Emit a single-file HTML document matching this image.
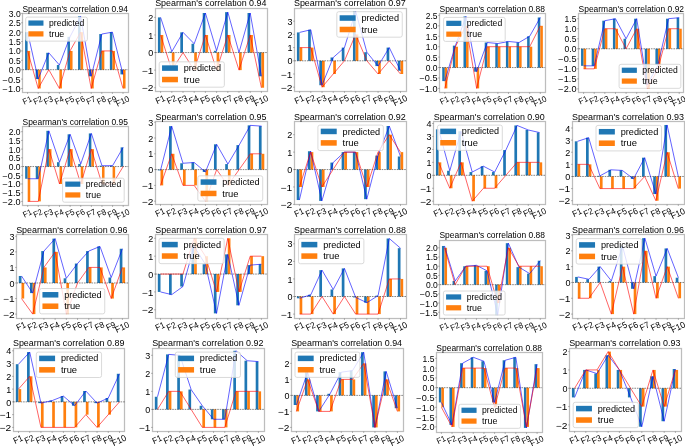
<!DOCTYPE html>
<html><head><meta charset="utf-8"><style>
html,body{margin:0;padding:0;background:#fff;width:685px;height:446px;overflow:hidden}
svg{display:block;filter:blur(0.3px)}
text{font-family:"Liberation Sans",sans-serif}
</style></head><body>
<svg width="685" height="446" viewBox="0 0 685 446">
<rect width="685" height="446" fill="#fff"/>
<clipPath id="c00"><rect x="22.60" y="13.60" width="105.65" height="78.70"/></clipPath>
<g clip-path="url(#c00)">
<rect x="25.06" y="32.17" width="2.54" height="37.53" fill="#1f77b4"/>
<rect x="27.60" y="50.93" width="2.54" height="18.77" fill="#ff7f0e"/>
<rect x="35.66" y="69.70" width="2.54" height="9.38" fill="#1f77b4"/>
<rect x="38.20" y="69.70" width="2.54" height="18.77" fill="#ff7f0e"/>
<rect x="46.26" y="52.81" width="2.54" height="16.89" fill="#1f77b4"/>
<rect x="48.80" y="69.70" width="2.54" height="0.00" fill="#ff7f0e"/>
<rect x="56.86" y="65.01" width="2.54" height="4.69" fill="#1f77b4"/>
<rect x="59.40" y="69.70" width="2.54" height="18.77" fill="#ff7f0e"/>
<rect x="67.46" y="36.86" width="2.54" height="32.84" fill="#1f77b4"/>
<rect x="70.00" y="50.93" width="2.54" height="18.77" fill="#ff7f0e"/>
<rect x="78.06" y="16.22" width="2.54" height="53.49" fill="#1f77b4"/>
<rect x="80.60" y="32.17" width="2.54" height="37.53" fill="#ff7f0e"/>
<rect x="88.66" y="69.70" width="2.54" height="6.57" fill="#1f77b4"/>
<rect x="91.20" y="69.70" width="2.54" height="18.77" fill="#ff7f0e"/>
<rect x="99.26" y="34.04" width="2.54" height="35.66" fill="#1f77b4"/>
<rect x="101.80" y="50.93" width="2.54" height="18.77" fill="#ff7f0e"/>
<rect x="109.86" y="32.17" width="2.54" height="37.53" fill="#1f77b4"/>
<rect x="112.40" y="50.93" width="2.54" height="18.77" fill="#ff7f0e"/>
<rect x="120.46" y="69.70" width="2.54" height="4.69" fill="#1f77b4"/>
<rect x="123.00" y="69.70" width="2.54" height="18.77" fill="#ff7f0e"/>
<line x1="22.60" y1="69.70" x2="128.25" y2="69.70" stroke="#000" stroke-opacity="0.6" stroke-width="0.80" stroke-dasharray="1.6,0.9"/>
<polyline points="27.60,32.17 38.20,79.08 48.80,52.81 59.40,65.01 70.00,36.86 80.60,16.22 91.20,76.27 101.80,34.04 112.40,32.17 123.00,74.39" fill="none" stroke="#0000ff" stroke-opacity="0.95" stroke-width="0.65" stroke-linejoin="round"/>
<polyline points="27.60,50.93 38.20,88.47 48.80,69.70 59.40,88.47 70.00,50.93 80.60,32.17 91.20,88.47 101.80,50.93 112.40,50.93 123.00,88.47" fill="none" stroke="#ff0000" stroke-opacity="0.95" stroke-width="0.65" stroke-linejoin="round"/>
</g>
<rect x="22.50" y="13.50" width="106.00" height="79.00" fill="none" stroke="#000" stroke-opacity="0.26" stroke-width="1.25"/>
<line x1="21.00" y1="13.40" x2="22.50" y2="13.40" stroke="#000" stroke-opacity="0.35" stroke-width="0.8"/>
<text x="20.70" y="16.83" font-size="8.43" text-anchor="end" textLength="11.87" lengthAdjust="spacingAndGlyphs" fill="#000">3.0</text>
<line x1="21.00" y1="22.78" x2="22.50" y2="22.78" stroke="#000" stroke-opacity="0.35" stroke-width="0.8"/>
<text x="20.70" y="26.22" font-size="8.43" text-anchor="end" textLength="11.87" lengthAdjust="spacingAndGlyphs" fill="#000">2.5</text>
<line x1="21.00" y1="32.17" x2="22.50" y2="32.17" stroke="#000" stroke-opacity="0.35" stroke-width="0.8"/>
<text x="20.70" y="35.60" font-size="8.43" text-anchor="end" textLength="11.87" lengthAdjust="spacingAndGlyphs" fill="#000">2.0</text>
<line x1="21.00" y1="41.55" x2="22.50" y2="41.55" stroke="#000" stroke-opacity="0.35" stroke-width="0.8"/>
<text x="20.70" y="44.98" font-size="8.43" text-anchor="end" textLength="11.87" lengthAdjust="spacingAndGlyphs" fill="#000">1.5</text>
<line x1="21.00" y1="50.93" x2="22.50" y2="50.93" stroke="#000" stroke-opacity="0.35" stroke-width="0.8"/>
<text x="20.70" y="54.37" font-size="8.43" text-anchor="end" textLength="11.87" lengthAdjust="spacingAndGlyphs" fill="#000">1.0</text>
<line x1="21.00" y1="60.32" x2="22.50" y2="60.32" stroke="#000" stroke-opacity="0.35" stroke-width="0.8"/>
<text x="20.70" y="63.75" font-size="8.43" text-anchor="end" textLength="11.87" lengthAdjust="spacingAndGlyphs" fill="#000">0.5</text>
<line x1="21.00" y1="69.70" x2="22.50" y2="69.70" stroke="#000" stroke-opacity="0.35" stroke-width="0.8"/>
<text x="20.70" y="73.13" font-size="8.43" text-anchor="end" textLength="11.87" lengthAdjust="spacingAndGlyphs" fill="#000">0.0</text>
<line x1="21.00" y1="79.08" x2="22.50" y2="79.08" stroke="#000" stroke-opacity="0.35" stroke-width="0.8"/>
<text x="20.70" y="82.52" font-size="8.43" text-anchor="end" textLength="18.12" lengthAdjust="spacingAndGlyphs" fill="#000">−0.5</text>
<line x1="21.00" y1="88.47" x2="22.50" y2="88.47" stroke="#000" stroke-opacity="0.35" stroke-width="0.8"/>
<text x="20.70" y="91.90" font-size="8.43" text-anchor="end" textLength="18.12" lengthAdjust="spacingAndGlyphs" fill="#000">−1.0</text>
<line x1="27.60" y1="92.50" x2="27.60" y2="94.00" stroke="#000" stroke-opacity="0.35" stroke-width="0.8"/>
<g transform="translate(27.60,100.92) rotate(-25.0)"><text x="0.00" y="2.02" font-size="8.43" text-anchor="middle" textLength="9.04" lengthAdjust="spacingAndGlyphs" fill="#000">F1</text></g>
<line x1="38.20" y1="92.50" x2="38.20" y2="94.00" stroke="#000" stroke-opacity="0.35" stroke-width="0.8"/>
<g transform="translate(38.20,100.92) rotate(-25.0)"><text x="0.00" y="2.02" font-size="8.43" text-anchor="middle" textLength="9.04" lengthAdjust="spacingAndGlyphs" fill="#000">F2</text></g>
<line x1="48.80" y1="92.50" x2="48.80" y2="94.00" stroke="#000" stroke-opacity="0.35" stroke-width="0.8"/>
<g transform="translate(48.80,100.92) rotate(-25.0)"><text x="0.00" y="2.02" font-size="8.43" text-anchor="middle" textLength="9.04" lengthAdjust="spacingAndGlyphs" fill="#000">F3</text></g>
<line x1="59.40" y1="92.50" x2="59.40" y2="94.00" stroke="#000" stroke-opacity="0.35" stroke-width="0.8"/>
<g transform="translate(59.40,100.92) rotate(-25.0)"><text x="0.00" y="2.02" font-size="8.43" text-anchor="middle" textLength="9.04" lengthAdjust="spacingAndGlyphs" fill="#000">F4</text></g>
<line x1="70.00" y1="92.50" x2="70.00" y2="94.00" stroke="#000" stroke-opacity="0.35" stroke-width="0.8"/>
<g transform="translate(70.00,100.92) rotate(-25.0)"><text x="0.00" y="2.02" font-size="8.43" text-anchor="middle" textLength="9.04" lengthAdjust="spacingAndGlyphs" fill="#000">F5</text></g>
<line x1="80.60" y1="92.50" x2="80.60" y2="94.00" stroke="#000" stroke-opacity="0.35" stroke-width="0.8"/>
<g transform="translate(80.60,100.92) rotate(-25.0)"><text x="0.00" y="2.02" font-size="8.43" text-anchor="middle" textLength="9.04" lengthAdjust="spacingAndGlyphs" fill="#000">F6</text></g>
<line x1="91.20" y1="92.50" x2="91.20" y2="94.00" stroke="#000" stroke-opacity="0.35" stroke-width="0.8"/>
<g transform="translate(91.20,100.92) rotate(-25.0)"><text x="0.00" y="2.02" font-size="8.43" text-anchor="middle" textLength="9.04" lengthAdjust="spacingAndGlyphs" fill="#000">F7</text></g>
<line x1="101.80" y1="92.50" x2="101.80" y2="94.00" stroke="#000" stroke-opacity="0.35" stroke-width="0.8"/>
<g transform="translate(101.80,100.92) rotate(-25.0)"><text x="0.00" y="2.02" font-size="8.43" text-anchor="middle" textLength="9.04" lengthAdjust="spacingAndGlyphs" fill="#000">F8</text></g>
<line x1="112.40" y1="92.50" x2="112.40" y2="94.00" stroke="#000" stroke-opacity="0.35" stroke-width="0.8"/>
<g transform="translate(112.40,100.92) rotate(-25.0)"><text x="0.00" y="2.02" font-size="8.43" text-anchor="middle" textLength="9.04" lengthAdjust="spacingAndGlyphs" fill="#000">F9</text></g>
<line x1="123.00" y1="92.50" x2="123.00" y2="94.00" stroke="#000" stroke-opacity="0.35" stroke-width="0.8"/>
<g transform="translate(123.00,101.93) rotate(-25.0)"><text x="0.00" y="2.02" font-size="8.43" text-anchor="middle" textLength="13.79" lengthAdjust="spacingAndGlyphs" fill="#000">F10</text></g>
<text x="75.20" y="11.60" font-size="8.43" text-anchor="middle" textLength="105.50" lengthAdjust="spacingAndGlyphs" fill="#000">Spearman&#39;s correlation 0.94</text>
<rect x="25.70" y="17.10" width="61.72" height="24.03" rx="1.87" fill="#fff" fill-opacity="0.8" stroke="#d0d0d0" stroke-width="0.8"/>
<rect x="28.39" y="20.46" width="15.08" height="5.22" fill="#1f77b4"/>
<text x="48.99" y="25.98" font-size="8.43" text-anchor="start" textLength="35.40" lengthAdjust="spacingAndGlyphs" fill="#000">predicted</text>
<rect x="28.39" y="31.28" width="15.08" height="5.22" fill="#ff7f0e"/>
<text x="48.99" y="36.80" font-size="8.43" text-anchor="start" textLength="15.32" lengthAdjust="spacingAndGlyphs" fill="#000">true</text>
<clipPath id="c01"><rect x="155.20" y="8.00" width="112.00" height="83.40"/></clipPath>
<g clip-path="url(#c01)">
<rect x="157.91" y="17.40" width="2.69" height="35.15" fill="#1f77b4"/>
<rect x="160.60" y="34.98" width="2.69" height="17.58" fill="#ff7f0e"/>
<rect x="169.11" y="51.67" width="2.69" height="0.88" fill="#1f77b4"/>
<rect x="171.80" y="52.55" width="2.69" height="17.57" fill="#ff7f0e"/>
<rect x="180.31" y="32.34" width="2.69" height="20.21" fill="#1f77b4"/>
<rect x="183.00" y="52.55" width="2.69" height="0.00" fill="#ff7f0e"/>
<rect x="191.51" y="43.76" width="2.69" height="8.79" fill="#1f77b4"/>
<rect x="194.20" y="52.55" width="2.69" height="17.57" fill="#ff7f0e"/>
<rect x="202.71" y="13.01" width="2.69" height="39.54" fill="#1f77b4"/>
<rect x="205.40" y="34.98" width="2.69" height="17.58" fill="#ff7f0e"/>
<rect x="213.91" y="50.79" width="2.69" height="1.76" fill="#1f77b4"/>
<rect x="216.60" y="52.55" width="2.69" height="17.57" fill="#ff7f0e"/>
<rect x="225.11" y="12.13" width="2.69" height="40.42" fill="#1f77b4"/>
<rect x="227.80" y="34.98" width="2.69" height="17.58" fill="#ff7f0e"/>
<rect x="236.31" y="52.55" width="2.69" height="0.00" fill="#1f77b4"/>
<rect x="239.00" y="52.55" width="2.69" height="17.57" fill="#ff7f0e"/>
<rect x="247.51" y="13.01" width="2.69" height="39.54" fill="#1f77b4"/>
<rect x="250.20" y="34.98" width="2.69" height="17.58" fill="#ff7f0e"/>
<rect x="258.71" y="52.55" width="2.69" height="23.73" fill="#1f77b4"/>
<rect x="261.40" y="52.55" width="2.69" height="35.15" fill="#ff7f0e"/>
<line x1="155.20" y1="52.55" x2="267.20" y2="52.55" stroke="#000" stroke-opacity="0.6" stroke-width="0.80" stroke-dasharray="1.6,0.9"/>
<polyline points="160.60,17.40 171.80,51.67 183.00,32.34 194.20,43.76 205.40,13.01 216.60,50.79 227.80,12.13 239.00,52.55 250.20,13.01 261.40,76.28" fill="none" stroke="#0000ff" stroke-opacity="0.95" stroke-width="0.65" stroke-linejoin="round"/>
<polyline points="160.60,34.98 171.80,70.12 183.00,52.55 194.20,70.12 205.40,34.98 216.60,70.12 227.80,34.98 239.00,70.12 250.20,34.98 261.40,87.70" fill="none" stroke="#ff0000" stroke-opacity="0.95" stroke-width="0.65" stroke-linejoin="round"/>
</g>
<rect x="155.50" y="8.50" width="112.00" height="83.00" fill="none" stroke="#000" stroke-opacity="0.26" stroke-width="1.25"/>
<line x1="154.00" y1="17.40" x2="155.50" y2="17.40" stroke="#000" stroke-opacity="0.35" stroke-width="0.8"/>
<text x="153.30" y="21.02" font-size="8.90" text-anchor="end" textLength="5.01" lengthAdjust="spacingAndGlyphs" fill="#000">2</text>
<line x1="154.00" y1="34.98" x2="155.50" y2="34.98" stroke="#000" stroke-opacity="0.35" stroke-width="0.8"/>
<text x="153.30" y="38.60" font-size="8.90" text-anchor="end" textLength="5.01" lengthAdjust="spacingAndGlyphs" fill="#000">1</text>
<line x1="154.00" y1="52.55" x2="155.50" y2="52.55" stroke="#000" stroke-opacity="0.35" stroke-width="0.8"/>
<text x="153.30" y="56.17" font-size="8.90" text-anchor="end" textLength="5.01" lengthAdjust="spacingAndGlyphs" fill="#000">0</text>
<line x1="154.00" y1="70.12" x2="155.50" y2="70.12" stroke="#000" stroke-opacity="0.35" stroke-width="0.8"/>
<text x="153.30" y="73.75" font-size="8.90" text-anchor="end" textLength="11.61" lengthAdjust="spacingAndGlyphs" fill="#000">−1</text>
<line x1="154.00" y1="87.70" x2="155.50" y2="87.70" stroke="#000" stroke-opacity="0.35" stroke-width="0.8"/>
<text x="153.30" y="91.32" font-size="8.90" text-anchor="end" textLength="11.61" lengthAdjust="spacingAndGlyphs" fill="#000">−2</text>
<line x1="160.60" y1="91.50" x2="160.60" y2="93.00" stroke="#000" stroke-opacity="0.35" stroke-width="0.8"/>
<g transform="translate(160.60,100.31) rotate(-25.0)"><text x="0.00" y="2.13" font-size="8.90" text-anchor="middle" textLength="9.54" lengthAdjust="spacingAndGlyphs" fill="#000">F1</text></g>
<line x1="171.80" y1="91.50" x2="171.80" y2="93.00" stroke="#000" stroke-opacity="0.35" stroke-width="0.8"/>
<g transform="translate(171.80,100.31) rotate(-25.0)"><text x="0.00" y="2.13" font-size="8.90" text-anchor="middle" textLength="9.54" lengthAdjust="spacingAndGlyphs" fill="#000">F2</text></g>
<line x1="183.00" y1="91.50" x2="183.00" y2="93.00" stroke="#000" stroke-opacity="0.35" stroke-width="0.8"/>
<g transform="translate(183.00,100.31) rotate(-25.0)"><text x="0.00" y="2.13" font-size="8.90" text-anchor="middle" textLength="9.54" lengthAdjust="spacingAndGlyphs" fill="#000">F3</text></g>
<line x1="194.20" y1="91.50" x2="194.20" y2="93.00" stroke="#000" stroke-opacity="0.35" stroke-width="0.8"/>
<g transform="translate(194.20,100.31) rotate(-25.0)"><text x="0.00" y="2.13" font-size="8.90" text-anchor="middle" textLength="9.54" lengthAdjust="spacingAndGlyphs" fill="#000">F4</text></g>
<line x1="205.40" y1="91.50" x2="205.40" y2="93.00" stroke="#000" stroke-opacity="0.35" stroke-width="0.8"/>
<g transform="translate(205.40,100.31) rotate(-25.0)"><text x="0.00" y="2.13" font-size="8.90" text-anchor="middle" textLength="9.54" lengthAdjust="spacingAndGlyphs" fill="#000">F5</text></g>
<line x1="216.60" y1="91.50" x2="216.60" y2="93.00" stroke="#000" stroke-opacity="0.35" stroke-width="0.8"/>
<g transform="translate(216.60,100.31) rotate(-25.0)"><text x="0.00" y="2.13" font-size="8.90" text-anchor="middle" textLength="9.54" lengthAdjust="spacingAndGlyphs" fill="#000">F6</text></g>
<line x1="227.80" y1="91.50" x2="227.80" y2="93.00" stroke="#000" stroke-opacity="0.35" stroke-width="0.8"/>
<g transform="translate(227.80,100.31) rotate(-25.0)"><text x="0.00" y="2.13" font-size="8.90" text-anchor="middle" textLength="9.54" lengthAdjust="spacingAndGlyphs" fill="#000">F7</text></g>
<line x1="239.00" y1="91.50" x2="239.00" y2="93.00" stroke="#000" stroke-opacity="0.35" stroke-width="0.8"/>
<g transform="translate(239.00,100.31) rotate(-25.0)"><text x="0.00" y="2.13" font-size="8.90" text-anchor="middle" textLength="9.54" lengthAdjust="spacingAndGlyphs" fill="#000">F8</text></g>
<line x1="250.20" y1="91.50" x2="250.20" y2="93.00" stroke="#000" stroke-opacity="0.35" stroke-width="0.8"/>
<g transform="translate(250.20,100.31) rotate(-25.0)"><text x="0.00" y="2.13" font-size="8.90" text-anchor="middle" textLength="9.54" lengthAdjust="spacingAndGlyphs" fill="#000">F9</text></g>
<line x1="261.40" y1="91.50" x2="261.40" y2="93.00" stroke="#000" stroke-opacity="0.35" stroke-width="0.8"/>
<g transform="translate(261.40,101.37) rotate(-25.0)"><text x="0.00" y="2.13" font-size="8.90" text-anchor="middle" textLength="14.55" lengthAdjust="spacingAndGlyphs" fill="#000">F10</text></g>
<text x="210.80" y="6.00" font-size="8.90" text-anchor="middle" textLength="111.35" lengthAdjust="spacingAndGlyphs" fill="#000">Spearman&#39;s correlation 0.94</text>
<rect x="159.20" y="61.80" width="65.15" height="25.36" rx="1.97" fill="#fff" fill-opacity="0.8" stroke="#d0d0d0" stroke-width="0.8"/>
<rect x="162.04" y="65.34" width="15.91" height="5.51" fill="#1f77b4"/>
<text x="183.78" y="71.17" font-size="8.90" text-anchor="start" textLength="37.37" lengthAdjust="spacingAndGlyphs" fill="#000">predicted</text>
<rect x="162.04" y="76.77" width="15.91" height="5.51" fill="#ff7f0e"/>
<text x="183.78" y="82.60" font-size="8.90" text-anchor="start" textLength="16.17" lengthAdjust="spacingAndGlyphs" fill="#000">true</text>
<clipPath id="c02"><rect x="294.40" y="8.00" width="111.80" height="83.30"/></clipPath>
<g clip-path="url(#c02)">
<rect x="296.91" y="32.42" width="2.69" height="28.38" fill="#1f77b4"/>
<rect x="299.60" y="47.60" width="2.69" height="13.20" fill="#ff7f0e"/>
<rect x="308.12" y="29.78" width="2.69" height="31.02" fill="#1f77b4"/>
<rect x="310.81" y="47.60" width="2.69" height="13.20" fill="#ff7f0e"/>
<rect x="319.33" y="60.80" width="2.69" height="24.42" fill="#1f77b4"/>
<rect x="322.02" y="60.80" width="2.69" height="26.40" fill="#ff7f0e"/>
<rect x="330.54" y="57.50" width="2.69" height="3.30" fill="#1f77b4"/>
<rect x="333.23" y="60.80" width="2.69" height="13.20" fill="#ff7f0e"/>
<rect x="341.75" y="47.60" width="2.69" height="13.20" fill="#1f77b4"/>
<rect x="344.44" y="60.80" width="2.69" height="0.00" fill="#ff7f0e"/>
<rect x="352.96" y="11.30" width="2.69" height="49.50" fill="#1f77b4"/>
<rect x="355.66" y="34.40" width="2.69" height="26.40" fill="#ff7f0e"/>
<rect x="364.18" y="52.22" width="2.69" height="8.58" fill="#1f77b4"/>
<rect x="366.87" y="60.80" width="2.69" height="0.00" fill="#ff7f0e"/>
<rect x="375.39" y="60.80" width="2.69" height="5.28" fill="#1f77b4"/>
<rect x="378.08" y="60.80" width="2.69" height="13.20" fill="#ff7f0e"/>
<rect x="386.60" y="47.60" width="2.69" height="13.20" fill="#1f77b4"/>
<rect x="389.29" y="60.80" width="2.69" height="0.00" fill="#ff7f0e"/>
<rect x="397.81" y="60.80" width="2.69" height="9.90" fill="#1f77b4"/>
<rect x="400.50" y="60.80" width="2.69" height="13.20" fill="#ff7f0e"/>
<line x1="294.40" y1="60.80" x2="406.20" y2="60.80" stroke="#000" stroke-opacity="0.6" stroke-width="0.80" stroke-dasharray="1.6,0.9"/>
<polyline points="299.60,32.42 310.81,29.78 322.02,85.22 333.23,57.50 344.44,47.60 355.66,11.30 366.87,52.22 378.08,66.08 389.29,47.60 400.50,70.70" fill="none" stroke="#0000ff" stroke-opacity="0.95" stroke-width="0.65" stroke-linejoin="round"/>
<polyline points="299.60,47.60 310.81,47.60 322.02,87.20 333.23,74.00 344.44,60.80 355.66,34.40 366.87,60.80 378.08,74.00 389.29,60.80 400.50,74.00" fill="none" stroke="#ff0000" stroke-opacity="0.95" stroke-width="0.65" stroke-linejoin="round"/>
</g>
<rect x="294.50" y="8.50" width="112.00" height="83.00" fill="none" stroke="#000" stroke-opacity="0.26" stroke-width="1.25"/>
<line x1="293.00" y1="21.20" x2="294.50" y2="21.20" stroke="#000" stroke-opacity="0.35" stroke-width="0.8"/>
<text x="292.50" y="24.84" font-size="8.94" text-anchor="end" textLength="5.03" lengthAdjust="spacingAndGlyphs" fill="#000">3</text>
<line x1="293.00" y1="34.40" x2="294.50" y2="34.40" stroke="#000" stroke-opacity="0.35" stroke-width="0.8"/>
<text x="292.50" y="38.04" font-size="8.94" text-anchor="end" textLength="5.03" lengthAdjust="spacingAndGlyphs" fill="#000">2</text>
<line x1="293.00" y1="47.60" x2="294.50" y2="47.60" stroke="#000" stroke-opacity="0.35" stroke-width="0.8"/>
<text x="292.50" y="51.24" font-size="8.94" text-anchor="end" textLength="5.03" lengthAdjust="spacingAndGlyphs" fill="#000">1</text>
<line x1="293.00" y1="60.80" x2="294.50" y2="60.80" stroke="#000" stroke-opacity="0.35" stroke-width="0.8"/>
<text x="292.50" y="64.44" font-size="8.94" text-anchor="end" textLength="5.03" lengthAdjust="spacingAndGlyphs" fill="#000">0</text>
<line x1="293.00" y1="74.00" x2="294.50" y2="74.00" stroke="#000" stroke-opacity="0.35" stroke-width="0.8"/>
<text x="292.50" y="77.64" font-size="8.94" text-anchor="end" textLength="11.66" lengthAdjust="spacingAndGlyphs" fill="#000">−1</text>
<line x1="293.00" y1="87.20" x2="294.50" y2="87.20" stroke="#000" stroke-opacity="0.35" stroke-width="0.8"/>
<text x="292.50" y="90.84" font-size="8.94" text-anchor="end" textLength="11.66" lengthAdjust="spacingAndGlyphs" fill="#000">−2</text>
<line x1="299.60" y1="91.50" x2="299.60" y2="93.00" stroke="#000" stroke-opacity="0.35" stroke-width="0.8"/>
<g transform="translate(299.60,100.23) rotate(-25.0)"><text x="0.00" y="2.14" font-size="8.94" text-anchor="middle" textLength="9.59" lengthAdjust="spacingAndGlyphs" fill="#000">F1</text></g>
<line x1="310.81" y1="91.50" x2="310.81" y2="93.00" stroke="#000" stroke-opacity="0.35" stroke-width="0.8"/>
<g transform="translate(310.81,100.23) rotate(-25.0)"><text x="0.00" y="2.14" font-size="8.94" text-anchor="middle" textLength="9.59" lengthAdjust="spacingAndGlyphs" fill="#000">F2</text></g>
<line x1="322.02" y1="91.50" x2="322.02" y2="93.00" stroke="#000" stroke-opacity="0.35" stroke-width="0.8"/>
<g transform="translate(322.02,100.23) rotate(-25.0)"><text x="0.00" y="2.14" font-size="8.94" text-anchor="middle" textLength="9.59" lengthAdjust="spacingAndGlyphs" fill="#000">F3</text></g>
<line x1="333.23" y1="91.50" x2="333.23" y2="93.00" stroke="#000" stroke-opacity="0.35" stroke-width="0.8"/>
<g transform="translate(333.23,100.23) rotate(-25.0)"><text x="0.00" y="2.14" font-size="8.94" text-anchor="middle" textLength="9.59" lengthAdjust="spacingAndGlyphs" fill="#000">F4</text></g>
<line x1="344.44" y1="91.50" x2="344.44" y2="93.00" stroke="#000" stroke-opacity="0.35" stroke-width="0.8"/>
<g transform="translate(344.44,100.23) rotate(-25.0)"><text x="0.00" y="2.14" font-size="8.94" text-anchor="middle" textLength="9.59" lengthAdjust="spacingAndGlyphs" fill="#000">F5</text></g>
<line x1="355.66" y1="91.50" x2="355.66" y2="93.00" stroke="#000" stroke-opacity="0.35" stroke-width="0.8"/>
<g transform="translate(355.66,100.23) rotate(-25.0)"><text x="0.00" y="2.14" font-size="8.94" text-anchor="middle" textLength="9.59" lengthAdjust="spacingAndGlyphs" fill="#000">F6</text></g>
<line x1="366.87" y1="91.50" x2="366.87" y2="93.00" stroke="#000" stroke-opacity="0.35" stroke-width="0.8"/>
<g transform="translate(366.87,100.23) rotate(-25.0)"><text x="0.00" y="2.14" font-size="8.94" text-anchor="middle" textLength="9.59" lengthAdjust="spacingAndGlyphs" fill="#000">F7</text></g>
<line x1="378.08" y1="91.50" x2="378.08" y2="93.00" stroke="#000" stroke-opacity="0.35" stroke-width="0.8"/>
<g transform="translate(378.08,100.23) rotate(-25.0)"><text x="0.00" y="2.14" font-size="8.94" text-anchor="middle" textLength="9.59" lengthAdjust="spacingAndGlyphs" fill="#000">F8</text></g>
<line x1="389.29" y1="91.50" x2="389.29" y2="93.00" stroke="#000" stroke-opacity="0.35" stroke-width="0.8"/>
<g transform="translate(389.29,100.23) rotate(-25.0)"><text x="0.00" y="2.14" font-size="8.94" text-anchor="middle" textLength="9.59" lengthAdjust="spacingAndGlyphs" fill="#000">F9</text></g>
<line x1="400.50" y1="91.50" x2="400.50" y2="93.00" stroke="#000" stroke-opacity="0.35" stroke-width="0.8"/>
<g transform="translate(400.50,101.30) rotate(-25.0)"><text x="0.00" y="2.14" font-size="8.94" text-anchor="middle" textLength="14.62" lengthAdjust="spacingAndGlyphs" fill="#000">F10</text></g>
<text x="349.85" y="6.00" font-size="8.94" text-anchor="middle" textLength="111.86" lengthAdjust="spacingAndGlyphs" fill="#000">Spearman&#39;s correlation 0.97</text>
<rect x="336.80" y="11.70" width="65.44" height="25.48" rx="1.98" fill="#fff" fill-opacity="0.8" stroke="#d0d0d0" stroke-width="0.8"/>
<rect x="339.65" y="15.26" width="15.98" height="5.54" fill="#1f77b4"/>
<text x="361.49" y="21.12" font-size="8.94" text-anchor="start" textLength="37.54" lengthAdjust="spacingAndGlyphs" fill="#000">predicted</text>
<rect x="339.65" y="26.73" width="15.98" height="5.54" fill="#ff7f0e"/>
<text x="361.49" y="32.59" font-size="8.94" text-anchor="start" textLength="16.24" lengthAdjust="spacingAndGlyphs" fill="#000">true</text>
<clipPath id="c03"><rect x="439.40" y="13.70" width="106.00" height="78.60"/></clipPath>
<g clip-path="url(#c03)">
<rect x="442.25" y="67.54" width="2.55" height="13.56" fill="#1f77b4"/>
<rect x="444.80" y="67.54" width="2.55" height="20.86" fill="#ff7f0e"/>
<rect x="452.86" y="45.64" width="2.55" height="21.90" fill="#1f77b4"/>
<rect x="455.41" y="46.69" width="2.55" height="20.86" fill="#ff7f0e"/>
<rect x="463.48" y="16.44" width="2.55" height="51.10" fill="#1f77b4"/>
<rect x="466.02" y="25.83" width="2.55" height="41.71" fill="#ff7f0e"/>
<rect x="474.09" y="67.54" width="2.55" height="4.17" fill="#1f77b4"/>
<rect x="476.63" y="67.54" width="2.55" height="20.86" fill="#ff7f0e"/>
<rect x="484.70" y="42.51" width="2.55" height="25.03" fill="#1f77b4"/>
<rect x="487.24" y="46.69" width="2.55" height="20.86" fill="#ff7f0e"/>
<rect x="495.31" y="43.56" width="2.55" height="23.99" fill="#1f77b4"/>
<rect x="497.86" y="46.69" width="2.55" height="20.86" fill="#ff7f0e"/>
<rect x="505.92" y="41.47" width="2.55" height="26.07" fill="#1f77b4"/>
<rect x="508.47" y="46.69" width="2.55" height="20.86" fill="#ff7f0e"/>
<rect x="516.53" y="42.51" width="2.55" height="25.03" fill="#1f77b4"/>
<rect x="519.08" y="46.69" width="2.55" height="20.86" fill="#ff7f0e"/>
<rect x="527.14" y="36.26" width="2.55" height="31.29" fill="#1f77b4"/>
<rect x="529.69" y="46.69" width="2.55" height="20.86" fill="#ff7f0e"/>
<rect x="537.75" y="17.49" width="2.55" height="50.06" fill="#1f77b4"/>
<rect x="540.30" y="25.83" width="2.55" height="41.71" fill="#ff7f0e"/>
<line x1="439.40" y1="67.54" x2="545.40" y2="67.54" stroke="#000" stroke-opacity="0.6" stroke-width="0.80" stroke-dasharray="1.6,0.9"/>
<polyline points="444.80,81.10 455.41,45.64 466.02,16.44 476.63,71.71 487.24,42.51 497.86,43.56 508.47,41.47 519.08,42.51 529.69,36.26 540.30,17.49" fill="none" stroke="#0000ff" stroke-opacity="0.95" stroke-width="0.65" stroke-linejoin="round"/>
<polyline points="444.80,88.40 455.41,46.69 466.02,25.83 476.63,88.40 487.24,46.69 497.86,46.69 508.47,46.69 519.08,46.69 529.69,46.69 540.30,25.83" fill="none" stroke="#ff0000" stroke-opacity="0.95" stroke-width="0.65" stroke-linejoin="round"/>
</g>
<rect x="439.50" y="13.50" width="106.00" height="79.00" fill="none" stroke="#000" stroke-opacity="0.26" stroke-width="1.25"/>
<line x1="438.00" y1="15.40" x2="439.50" y2="15.40" stroke="#000" stroke-opacity="0.35" stroke-width="0.8"/>
<text x="437.50" y="18.83" font-size="8.42" text-anchor="end" textLength="11.85" lengthAdjust="spacingAndGlyphs" fill="#000">2.5</text>
<line x1="438.00" y1="25.83" x2="439.50" y2="25.83" stroke="#000" stroke-opacity="0.35" stroke-width="0.8"/>
<text x="437.50" y="29.26" font-size="8.42" text-anchor="end" textLength="11.85" lengthAdjust="spacingAndGlyphs" fill="#000">2.0</text>
<line x1="438.00" y1="36.26" x2="439.50" y2="36.26" stroke="#000" stroke-opacity="0.35" stroke-width="0.8"/>
<text x="437.50" y="39.68" font-size="8.42" text-anchor="end" textLength="11.85" lengthAdjust="spacingAndGlyphs" fill="#000">1.5</text>
<line x1="438.00" y1="46.69" x2="439.50" y2="46.69" stroke="#000" stroke-opacity="0.35" stroke-width="0.8"/>
<text x="437.50" y="50.11" font-size="8.42" text-anchor="end" textLength="11.85" lengthAdjust="spacingAndGlyphs" fill="#000">1.0</text>
<line x1="438.00" y1="57.11" x2="439.50" y2="57.11" stroke="#000" stroke-opacity="0.35" stroke-width="0.8"/>
<text x="437.50" y="60.54" font-size="8.42" text-anchor="end" textLength="11.85" lengthAdjust="spacingAndGlyphs" fill="#000">0.5</text>
<line x1="438.00" y1="67.54" x2="439.50" y2="67.54" stroke="#000" stroke-opacity="0.35" stroke-width="0.8"/>
<text x="437.50" y="70.97" font-size="8.42" text-anchor="end" textLength="11.85" lengthAdjust="spacingAndGlyphs" fill="#000">0.0</text>
<line x1="438.00" y1="77.97" x2="439.50" y2="77.97" stroke="#000" stroke-opacity="0.35" stroke-width="0.8"/>
<text x="437.50" y="81.40" font-size="8.42" text-anchor="end" textLength="18.09" lengthAdjust="spacingAndGlyphs" fill="#000">−0.5</text>
<line x1="438.00" y1="88.40" x2="439.50" y2="88.40" stroke="#000" stroke-opacity="0.35" stroke-width="0.8"/>
<text x="437.50" y="91.83" font-size="8.42" text-anchor="end" textLength="18.09" lengthAdjust="spacingAndGlyphs" fill="#000">−1.0</text>
<line x1="444.80" y1="92.50" x2="444.80" y2="94.00" stroke="#000" stroke-opacity="0.35" stroke-width="0.8"/>
<g transform="translate(444.80,100.91) rotate(-25.0)"><text x="0.00" y="2.01" font-size="8.42" text-anchor="middle" textLength="9.02" lengthAdjust="spacingAndGlyphs" fill="#000">F1</text></g>
<line x1="455.41" y1="92.50" x2="455.41" y2="94.00" stroke="#000" stroke-opacity="0.35" stroke-width="0.8"/>
<g transform="translate(455.41,100.91) rotate(-25.0)"><text x="0.00" y="2.01" font-size="8.42" text-anchor="middle" textLength="9.02" lengthAdjust="spacingAndGlyphs" fill="#000">F2</text></g>
<line x1="466.02" y1="92.50" x2="466.02" y2="94.00" stroke="#000" stroke-opacity="0.35" stroke-width="0.8"/>
<g transform="translate(466.02,100.91) rotate(-25.0)"><text x="0.00" y="2.01" font-size="8.42" text-anchor="middle" textLength="9.02" lengthAdjust="spacingAndGlyphs" fill="#000">F3</text></g>
<line x1="476.63" y1="92.50" x2="476.63" y2="94.00" stroke="#000" stroke-opacity="0.35" stroke-width="0.8"/>
<g transform="translate(476.63,100.91) rotate(-25.0)"><text x="0.00" y="2.01" font-size="8.42" text-anchor="middle" textLength="9.02" lengthAdjust="spacingAndGlyphs" fill="#000">F4</text></g>
<line x1="487.24" y1="92.50" x2="487.24" y2="94.00" stroke="#000" stroke-opacity="0.35" stroke-width="0.8"/>
<g transform="translate(487.24,100.91) rotate(-25.0)"><text x="0.00" y="2.01" font-size="8.42" text-anchor="middle" textLength="9.02" lengthAdjust="spacingAndGlyphs" fill="#000">F5</text></g>
<line x1="497.86" y1="92.50" x2="497.86" y2="94.00" stroke="#000" stroke-opacity="0.35" stroke-width="0.8"/>
<g transform="translate(497.86,100.91) rotate(-25.0)"><text x="0.00" y="2.01" font-size="8.42" text-anchor="middle" textLength="9.02" lengthAdjust="spacingAndGlyphs" fill="#000">F6</text></g>
<line x1="508.47" y1="92.50" x2="508.47" y2="94.00" stroke="#000" stroke-opacity="0.35" stroke-width="0.8"/>
<g transform="translate(508.47,100.91) rotate(-25.0)"><text x="0.00" y="2.01" font-size="8.42" text-anchor="middle" textLength="9.02" lengthAdjust="spacingAndGlyphs" fill="#000">F7</text></g>
<line x1="519.08" y1="92.50" x2="519.08" y2="94.00" stroke="#000" stroke-opacity="0.35" stroke-width="0.8"/>
<g transform="translate(519.08,100.91) rotate(-25.0)"><text x="0.00" y="2.01" font-size="8.42" text-anchor="middle" textLength="9.02" lengthAdjust="spacingAndGlyphs" fill="#000">F8</text></g>
<line x1="529.69" y1="92.50" x2="529.69" y2="94.00" stroke="#000" stroke-opacity="0.35" stroke-width="0.8"/>
<g transform="translate(529.69,100.91) rotate(-25.0)"><text x="0.00" y="2.01" font-size="8.42" text-anchor="middle" textLength="9.02" lengthAdjust="spacingAndGlyphs" fill="#000">F9</text></g>
<line x1="540.30" y1="92.50" x2="540.30" y2="94.00" stroke="#000" stroke-opacity="0.35" stroke-width="0.8"/>
<g transform="translate(540.30,101.92) rotate(-25.0)"><text x="0.00" y="2.01" font-size="8.42" text-anchor="middle" textLength="13.76" lengthAdjust="spacingAndGlyphs" fill="#000">F10</text></g>
<text x="492.20" y="11.70" font-size="8.42" text-anchor="middle" textLength="105.30" lengthAdjust="spacingAndGlyphs" fill="#000">Spearman&#39;s correlation 0.88</text>
<rect x="443.60" y="17.40" width="61.60" height="23.99" rx="1.86" fill="#fff" fill-opacity="0.8" stroke="#d0d0d0" stroke-width="0.8"/>
<rect x="446.28" y="20.75" width="15.05" height="5.21" fill="#1f77b4"/>
<text x="466.84" y="26.26" font-size="8.42" text-anchor="start" textLength="35.34" lengthAdjust="spacingAndGlyphs" fill="#000">predicted</text>
<rect x="446.28" y="31.55" width="15.05" height="5.21" fill="#ff7f0e"/>
<text x="466.84" y="37.07" font-size="8.42" text-anchor="start" textLength="15.29" lengthAdjust="spacingAndGlyphs" fill="#000">true</text>
<clipPath id="c04"><rect x="578.40" y="13.70" width="105.30" height="78.50"/></clipPath>
<g clip-path="url(#c04)">
<rect x="581.05" y="48.79" width="2.55" height="17.05" fill="#1f77b4"/>
<rect x="583.60" y="48.79" width="2.55" height="20.06" fill="#ff7f0e"/>
<rect x="591.67" y="48.79" width="2.55" height="17.05" fill="#1f77b4"/>
<rect x="594.22" y="48.79" width="2.55" height="20.06" fill="#ff7f0e"/>
<rect x="602.30" y="20.71" width="2.55" height="28.08" fill="#1f77b4"/>
<rect x="604.84" y="28.73" width="2.55" height="20.06" fill="#ff7f0e"/>
<rect x="612.92" y="18.70" width="2.55" height="30.09" fill="#1f77b4"/>
<rect x="615.47" y="28.73" width="2.55" height="20.06" fill="#ff7f0e"/>
<rect x="623.54" y="38.76" width="2.55" height="10.03" fill="#1f77b4"/>
<rect x="626.09" y="48.79" width="2.55" height="0.00" fill="#ff7f0e"/>
<rect x="634.16" y="18.70" width="2.55" height="30.09" fill="#1f77b4"/>
<rect x="636.71" y="28.73" width="2.55" height="20.06" fill="#ff7f0e"/>
<rect x="644.78" y="48.79" width="2.55" height="36.10" fill="#1f77b4"/>
<rect x="647.33" y="48.79" width="2.55" height="40.11" fill="#ff7f0e"/>
<rect x="655.41" y="48.79" width="2.55" height="16.05" fill="#1f77b4"/>
<rect x="657.96" y="48.79" width="2.55" height="20.06" fill="#ff7f0e"/>
<rect x="666.03" y="18.70" width="2.55" height="30.09" fill="#1f77b4"/>
<rect x="668.58" y="28.73" width="2.55" height="20.06" fill="#ff7f0e"/>
<rect x="676.65" y="17.70" width="2.55" height="31.09" fill="#1f77b4"/>
<rect x="679.20" y="28.73" width="2.55" height="20.06" fill="#ff7f0e"/>
<line x1="578.40" y1="48.79" x2="683.70" y2="48.79" stroke="#000" stroke-opacity="0.6" stroke-width="0.80" stroke-dasharray="1.6,0.9"/>
<polyline points="583.60,65.83 594.22,65.83 604.84,20.71 615.47,18.70 626.09,38.76 636.71,18.70 647.33,84.89 657.96,64.83 668.58,18.70 679.20,17.70" fill="none" stroke="#0000ff" stroke-opacity="0.95" stroke-width="0.65" stroke-linejoin="round"/>
<polyline points="583.60,68.84 594.22,68.84 604.84,28.73 615.47,28.73 626.09,48.79 636.71,28.73 647.33,88.90 657.96,68.84 668.58,28.73 679.20,28.73" fill="none" stroke="#ff0000" stroke-opacity="0.95" stroke-width="0.65" stroke-linejoin="round"/>
</g>
<rect x="578.50" y="13.50" width="105.00" height="79.00" fill="none" stroke="#000" stroke-opacity="0.26" stroke-width="1.25"/>
<line x1="577.00" y1="18.70" x2="578.50" y2="18.70" stroke="#000" stroke-opacity="0.35" stroke-width="0.8"/>
<text x="576.50" y="22.13" font-size="8.43" text-anchor="end" textLength="11.87" lengthAdjust="spacingAndGlyphs" fill="#000">1.5</text>
<line x1="577.00" y1="28.73" x2="578.50" y2="28.73" stroke="#000" stroke-opacity="0.35" stroke-width="0.8"/>
<text x="576.50" y="32.16" font-size="8.43" text-anchor="end" textLength="11.87" lengthAdjust="spacingAndGlyphs" fill="#000">1.0</text>
<line x1="577.00" y1="38.76" x2="578.50" y2="38.76" stroke="#000" stroke-opacity="0.35" stroke-width="0.8"/>
<text x="576.50" y="42.19" font-size="8.43" text-anchor="end" textLength="11.87" lengthAdjust="spacingAndGlyphs" fill="#000">0.5</text>
<line x1="577.00" y1="48.79" x2="578.50" y2="48.79" stroke="#000" stroke-opacity="0.35" stroke-width="0.8"/>
<text x="576.50" y="52.22" font-size="8.43" text-anchor="end" textLength="11.87" lengthAdjust="spacingAndGlyphs" fill="#000">0.0</text>
<line x1="577.00" y1="58.81" x2="578.50" y2="58.81" stroke="#000" stroke-opacity="0.35" stroke-width="0.8"/>
<text x="576.50" y="62.25" font-size="8.43" text-anchor="end" textLength="18.12" lengthAdjust="spacingAndGlyphs" fill="#000">−0.5</text>
<line x1="577.00" y1="68.84" x2="578.50" y2="68.84" stroke="#000" stroke-opacity="0.35" stroke-width="0.8"/>
<text x="576.50" y="72.28" font-size="8.43" text-anchor="end" textLength="18.12" lengthAdjust="spacingAndGlyphs" fill="#000">−1.0</text>
<line x1="577.00" y1="78.87" x2="578.50" y2="78.87" stroke="#000" stroke-opacity="0.35" stroke-width="0.8"/>
<text x="576.50" y="82.30" font-size="8.43" text-anchor="end" textLength="18.12" lengthAdjust="spacingAndGlyphs" fill="#000">−1.5</text>
<line x1="577.00" y1="88.90" x2="578.50" y2="88.90" stroke="#000" stroke-opacity="0.35" stroke-width="0.8"/>
<text x="576.50" y="92.33" font-size="8.43" text-anchor="end" textLength="18.12" lengthAdjust="spacingAndGlyphs" fill="#000">−2.0</text>
<line x1="583.60" y1="92.50" x2="583.60" y2="94.00" stroke="#000" stroke-opacity="0.35" stroke-width="0.8"/>
<g transform="translate(583.60,100.82) rotate(-25.0)"><text x="0.00" y="2.02" font-size="8.43" text-anchor="middle" textLength="9.04" lengthAdjust="spacingAndGlyphs" fill="#000">F1</text></g>
<line x1="594.22" y1="92.50" x2="594.22" y2="94.00" stroke="#000" stroke-opacity="0.35" stroke-width="0.8"/>
<g transform="translate(594.22,100.82) rotate(-25.0)"><text x="0.00" y="2.02" font-size="8.43" text-anchor="middle" textLength="9.04" lengthAdjust="spacingAndGlyphs" fill="#000">F2</text></g>
<line x1="604.84" y1="92.50" x2="604.84" y2="94.00" stroke="#000" stroke-opacity="0.35" stroke-width="0.8"/>
<g transform="translate(604.84,100.82) rotate(-25.0)"><text x="0.00" y="2.02" font-size="8.43" text-anchor="middle" textLength="9.04" lengthAdjust="spacingAndGlyphs" fill="#000">F3</text></g>
<line x1="615.47" y1="92.50" x2="615.47" y2="94.00" stroke="#000" stroke-opacity="0.35" stroke-width="0.8"/>
<g transform="translate(615.47,100.82) rotate(-25.0)"><text x="0.00" y="2.02" font-size="8.43" text-anchor="middle" textLength="9.04" lengthAdjust="spacingAndGlyphs" fill="#000">F4</text></g>
<line x1="626.09" y1="92.50" x2="626.09" y2="94.00" stroke="#000" stroke-opacity="0.35" stroke-width="0.8"/>
<g transform="translate(626.09,100.82) rotate(-25.0)"><text x="0.00" y="2.02" font-size="8.43" text-anchor="middle" textLength="9.04" lengthAdjust="spacingAndGlyphs" fill="#000">F5</text></g>
<line x1="636.71" y1="92.50" x2="636.71" y2="94.00" stroke="#000" stroke-opacity="0.35" stroke-width="0.8"/>
<g transform="translate(636.71,100.82) rotate(-25.0)"><text x="0.00" y="2.02" font-size="8.43" text-anchor="middle" textLength="9.04" lengthAdjust="spacingAndGlyphs" fill="#000">F6</text></g>
<line x1="647.33" y1="92.50" x2="647.33" y2="94.00" stroke="#000" stroke-opacity="0.35" stroke-width="0.8"/>
<g transform="translate(647.33,100.82) rotate(-25.0)"><text x="0.00" y="2.02" font-size="8.43" text-anchor="middle" textLength="9.04" lengthAdjust="spacingAndGlyphs" fill="#000">F7</text></g>
<line x1="657.96" y1="92.50" x2="657.96" y2="94.00" stroke="#000" stroke-opacity="0.35" stroke-width="0.8"/>
<g transform="translate(657.96,100.82) rotate(-25.0)"><text x="0.00" y="2.02" font-size="8.43" text-anchor="middle" textLength="9.04" lengthAdjust="spacingAndGlyphs" fill="#000">F8</text></g>
<line x1="668.58" y1="92.50" x2="668.58" y2="94.00" stroke="#000" stroke-opacity="0.35" stroke-width="0.8"/>
<g transform="translate(668.58,100.82) rotate(-25.0)"><text x="0.00" y="2.02" font-size="8.43" text-anchor="middle" textLength="9.04" lengthAdjust="spacingAndGlyphs" fill="#000">F9</text></g>
<line x1="679.20" y1="92.50" x2="679.20" y2="94.00" stroke="#000" stroke-opacity="0.35" stroke-width="0.8"/>
<g transform="translate(679.20,101.83) rotate(-25.0)"><text x="0.00" y="2.02" font-size="8.43" text-anchor="middle" textLength="13.79" lengthAdjust="spacingAndGlyphs" fill="#000">F10</text></g>
<text x="631.30" y="11.70" font-size="8.43" text-anchor="middle" textLength="105.50" lengthAdjust="spacingAndGlyphs" fill="#000">Spearman&#39;s correlation 0.92</text>
<rect x="619.10" y="64.30" width="61.72" height="24.03" rx="1.87" fill="#fff" fill-opacity="0.8" stroke="#d0d0d0" stroke-width="0.8"/>
<rect x="621.79" y="67.66" width="15.08" height="5.22" fill="#1f77b4"/>
<text x="642.39" y="73.18" font-size="8.43" text-anchor="start" textLength="35.40" lengthAdjust="spacingAndGlyphs" fill="#000">predicted</text>
<rect x="621.79" y="78.48" width="15.08" height="5.22" fill="#ff7f0e"/>
<text x="642.39" y="84.00" font-size="8.43" text-anchor="start" textLength="15.32" lengthAdjust="spacingAndGlyphs" fill="#000">true</text>
<clipPath id="c10"><rect x="22.50" y="126.60" width="106.00" height="78.80"/></clipPath>
<g clip-path="url(#c10)">
<rect x="25.15" y="166.55" width="2.55" height="12.20" fill="#1f77b4"/>
<rect x="27.70" y="166.55" width="2.55" height="34.85" fill="#ff7f0e"/>
<rect x="35.76" y="166.55" width="2.55" height="12.20" fill="#1f77b4"/>
<rect x="38.31" y="166.55" width="2.55" height="34.85" fill="#ff7f0e"/>
<rect x="46.38" y="130.83" width="2.55" height="35.72" fill="#1f77b4"/>
<rect x="48.92" y="149.12" width="2.55" height="17.43" fill="#ff7f0e"/>
<rect x="56.99" y="162.19" width="2.55" height="4.36" fill="#1f77b4"/>
<rect x="59.53" y="166.55" width="2.55" height="17.43" fill="#ff7f0e"/>
<rect x="67.60" y="134.31" width="2.55" height="32.24" fill="#1f77b4"/>
<rect x="70.14" y="149.12" width="2.55" height="17.43" fill="#ff7f0e"/>
<rect x="78.21" y="163.94" width="2.55" height="2.61" fill="#1f77b4"/>
<rect x="80.76" y="166.55" width="2.55" height="17.43" fill="#ff7f0e"/>
<rect x="88.82" y="133.44" width="2.55" height="33.11" fill="#1f77b4"/>
<rect x="91.37" y="149.12" width="2.55" height="17.43" fill="#ff7f0e"/>
<rect x="99.43" y="165.68" width="2.55" height="0.87" fill="#1f77b4"/>
<rect x="101.98" y="166.55" width="2.55" height="17.43" fill="#ff7f0e"/>
<rect x="110.04" y="165.68" width="2.55" height="0.87" fill="#1f77b4"/>
<rect x="112.59" y="166.55" width="2.55" height="17.43" fill="#ff7f0e"/>
<rect x="120.65" y="147.38" width="2.55" height="19.17" fill="#1f77b4"/>
<rect x="123.20" y="166.55" width="2.55" height="0.00" fill="#ff7f0e"/>
<line x1="22.50" y1="166.55" x2="128.50" y2="166.55" stroke="#000" stroke-opacity="0.6" stroke-width="0.80" stroke-dasharray="1.6,0.9"/>
<polyline points="27.70,178.75 38.31,178.75 48.92,130.83 59.53,162.19 70.14,134.31 80.76,163.94 91.37,133.44 101.98,165.68 112.59,165.68 123.20,147.38" fill="none" stroke="#0000ff" stroke-opacity="0.95" stroke-width="0.65" stroke-linejoin="round"/>
<polyline points="27.70,201.40 38.31,201.40 48.92,149.12 59.53,183.98 70.14,149.12 80.76,183.98 91.37,149.12 101.98,183.98 112.59,183.98 123.20,166.55" fill="none" stroke="#ff0000" stroke-opacity="0.95" stroke-width="0.65" stroke-linejoin="round"/>
</g>
<rect x="22.50" y="126.50" width="106.00" height="79.00" fill="none" stroke="#000" stroke-opacity="0.26" stroke-width="1.25"/>
<line x1="21.00" y1="131.70" x2="22.50" y2="131.70" stroke="#000" stroke-opacity="0.35" stroke-width="0.8"/>
<text x="20.60" y="135.13" font-size="8.42" text-anchor="end" textLength="11.85" lengthAdjust="spacingAndGlyphs" fill="#000">2.0</text>
<line x1="21.00" y1="140.41" x2="22.50" y2="140.41" stroke="#000" stroke-opacity="0.35" stroke-width="0.8"/>
<text x="20.60" y="143.84" font-size="8.42" text-anchor="end" textLength="11.85" lengthAdjust="spacingAndGlyphs" fill="#000">1.5</text>
<line x1="21.00" y1="149.12" x2="22.50" y2="149.12" stroke="#000" stroke-opacity="0.35" stroke-width="0.8"/>
<text x="20.60" y="152.55" font-size="8.42" text-anchor="end" textLength="11.85" lengthAdjust="spacingAndGlyphs" fill="#000">1.0</text>
<line x1="21.00" y1="157.84" x2="22.50" y2="157.84" stroke="#000" stroke-opacity="0.35" stroke-width="0.8"/>
<text x="20.60" y="161.26" font-size="8.42" text-anchor="end" textLength="11.85" lengthAdjust="spacingAndGlyphs" fill="#000">0.5</text>
<line x1="21.00" y1="166.55" x2="22.50" y2="166.55" stroke="#000" stroke-opacity="0.35" stroke-width="0.8"/>
<text x="20.60" y="169.98" font-size="8.42" text-anchor="end" textLength="11.85" lengthAdjust="spacingAndGlyphs" fill="#000">0.0</text>
<line x1="21.00" y1="175.26" x2="22.50" y2="175.26" stroke="#000" stroke-opacity="0.35" stroke-width="0.8"/>
<text x="20.60" y="178.69" font-size="8.42" text-anchor="end" textLength="18.09" lengthAdjust="spacingAndGlyphs" fill="#000">−0.5</text>
<line x1="21.00" y1="183.98" x2="22.50" y2="183.98" stroke="#000" stroke-opacity="0.35" stroke-width="0.8"/>
<text x="20.60" y="187.40" font-size="8.42" text-anchor="end" textLength="18.09" lengthAdjust="spacingAndGlyphs" fill="#000">−1.0</text>
<line x1="21.00" y1="192.69" x2="22.50" y2="192.69" stroke="#000" stroke-opacity="0.35" stroke-width="0.8"/>
<text x="20.60" y="196.11" font-size="8.42" text-anchor="end" textLength="18.09" lengthAdjust="spacingAndGlyphs" fill="#000">−1.5</text>
<line x1="21.00" y1="201.40" x2="22.50" y2="201.40" stroke="#000" stroke-opacity="0.35" stroke-width="0.8"/>
<text x="20.60" y="204.83" font-size="8.42" text-anchor="end" textLength="18.09" lengthAdjust="spacingAndGlyphs" fill="#000">−2.0</text>
<line x1="27.70" y1="205.50" x2="27.70" y2="207.00" stroke="#000" stroke-opacity="0.35" stroke-width="0.8"/>
<g transform="translate(27.70,214.01) rotate(-25.0)"><text x="0.00" y="2.01" font-size="8.42" text-anchor="middle" textLength="9.02" lengthAdjust="spacingAndGlyphs" fill="#000">F1</text></g>
<line x1="38.31" y1="205.50" x2="38.31" y2="207.00" stroke="#000" stroke-opacity="0.35" stroke-width="0.8"/>
<g transform="translate(38.31,214.01) rotate(-25.0)"><text x="0.00" y="2.01" font-size="8.42" text-anchor="middle" textLength="9.02" lengthAdjust="spacingAndGlyphs" fill="#000">F2</text></g>
<line x1="48.92" y1="205.50" x2="48.92" y2="207.00" stroke="#000" stroke-opacity="0.35" stroke-width="0.8"/>
<g transform="translate(48.92,214.01) rotate(-25.0)"><text x="0.00" y="2.01" font-size="8.42" text-anchor="middle" textLength="9.02" lengthAdjust="spacingAndGlyphs" fill="#000">F3</text></g>
<line x1="59.53" y1="205.50" x2="59.53" y2="207.00" stroke="#000" stroke-opacity="0.35" stroke-width="0.8"/>
<g transform="translate(59.53,214.01) rotate(-25.0)"><text x="0.00" y="2.01" font-size="8.42" text-anchor="middle" textLength="9.02" lengthAdjust="spacingAndGlyphs" fill="#000">F4</text></g>
<line x1="70.14" y1="205.50" x2="70.14" y2="207.00" stroke="#000" stroke-opacity="0.35" stroke-width="0.8"/>
<g transform="translate(70.14,214.01) rotate(-25.0)"><text x="0.00" y="2.01" font-size="8.42" text-anchor="middle" textLength="9.02" lengthAdjust="spacingAndGlyphs" fill="#000">F5</text></g>
<line x1="80.76" y1="205.50" x2="80.76" y2="207.00" stroke="#000" stroke-opacity="0.35" stroke-width="0.8"/>
<g transform="translate(80.76,214.01) rotate(-25.0)"><text x="0.00" y="2.01" font-size="8.42" text-anchor="middle" textLength="9.02" lengthAdjust="spacingAndGlyphs" fill="#000">F6</text></g>
<line x1="91.37" y1="205.50" x2="91.37" y2="207.00" stroke="#000" stroke-opacity="0.35" stroke-width="0.8"/>
<g transform="translate(91.37,214.01) rotate(-25.0)"><text x="0.00" y="2.01" font-size="8.42" text-anchor="middle" textLength="9.02" lengthAdjust="spacingAndGlyphs" fill="#000">F7</text></g>
<line x1="101.98" y1="205.50" x2="101.98" y2="207.00" stroke="#000" stroke-opacity="0.35" stroke-width="0.8"/>
<g transform="translate(101.98,214.01) rotate(-25.0)"><text x="0.00" y="2.01" font-size="8.42" text-anchor="middle" textLength="9.02" lengthAdjust="spacingAndGlyphs" fill="#000">F8</text></g>
<line x1="112.59" y1="205.50" x2="112.59" y2="207.00" stroke="#000" stroke-opacity="0.35" stroke-width="0.8"/>
<g transform="translate(112.59,214.01) rotate(-25.0)"><text x="0.00" y="2.01" font-size="8.42" text-anchor="middle" textLength="9.02" lengthAdjust="spacingAndGlyphs" fill="#000">F9</text></g>
<line x1="123.20" y1="205.50" x2="123.20" y2="207.00" stroke="#000" stroke-opacity="0.35" stroke-width="0.8"/>
<g transform="translate(123.20,215.02) rotate(-25.0)"><text x="0.00" y="2.01" font-size="8.42" text-anchor="middle" textLength="13.76" lengthAdjust="spacingAndGlyphs" fill="#000">F10</text></g>
<text x="75.20" y="124.60" font-size="8.42" text-anchor="middle" textLength="105.30" lengthAdjust="spacingAndGlyphs" fill="#000">Spearman&#39;s correlation 0.95</text>
<rect x="62.60" y="178.20" width="61.60" height="23.99" rx="1.86" fill="#fff" fill-opacity="0.8" stroke="#d0d0d0" stroke-width="0.8"/>
<rect x="65.28" y="181.55" width="15.05" height="5.21" fill="#1f77b4"/>
<text x="85.84" y="187.06" font-size="8.42" text-anchor="start" textLength="35.34" lengthAdjust="spacingAndGlyphs" fill="#000">predicted</text>
<rect x="65.28" y="192.35" width="15.05" height="5.21" fill="#ff7f0e"/>
<text x="85.84" y="197.87" font-size="8.42" text-anchor="start" textLength="15.29" lengthAdjust="spacingAndGlyphs" fill="#000">true</text>
<clipPath id="c11"><rect x="155.20" y="121.60" width="112.00" height="82.70"/></clipPath>
<g clip-path="url(#c11)">
<rect x="157.80" y="169.60" width="2.70" height="0.79" fill="#1f77b4"/>
<rect x="160.50" y="169.60" width="2.70" height="15.80" fill="#ff7f0e"/>
<rect x="169.04" y="126.15" width="2.70" height="43.45" fill="#1f77b4"/>
<rect x="171.73" y="153.80" width="2.70" height="15.80" fill="#ff7f0e"/>
<rect x="180.27" y="163.28" width="2.70" height="6.32" fill="#1f77b4"/>
<rect x="182.97" y="169.60" width="2.70" height="15.80" fill="#ff7f0e"/>
<rect x="191.50" y="162.49" width="2.70" height="7.11" fill="#1f77b4"/>
<rect x="194.20" y="169.60" width="2.70" height="15.80" fill="#ff7f0e"/>
<rect x="202.74" y="169.60" width="2.70" height="2.37" fill="#1f77b4"/>
<rect x="205.43" y="169.60" width="2.70" height="31.60" fill="#ff7f0e"/>
<rect x="213.97" y="144.32" width="2.70" height="25.28" fill="#1f77b4"/>
<rect x="216.67" y="169.60" width="2.70" height="0.00" fill="#ff7f0e"/>
<rect x="225.20" y="164.07" width="2.70" height="5.53" fill="#1f77b4"/>
<rect x="227.90" y="169.60" width="2.70" height="15.80" fill="#ff7f0e"/>
<rect x="236.44" y="145.11" width="2.70" height="24.49" fill="#1f77b4"/>
<rect x="239.13" y="169.60" width="2.70" height="0.00" fill="#ff7f0e"/>
<rect x="247.67" y="125.36" width="2.70" height="44.24" fill="#1f77b4"/>
<rect x="250.37" y="153.80" width="2.70" height="15.80" fill="#ff7f0e"/>
<rect x="258.90" y="126.15" width="2.70" height="43.45" fill="#1f77b4"/>
<rect x="261.60" y="153.80" width="2.70" height="15.80" fill="#ff7f0e"/>
<line x1="155.20" y1="169.60" x2="267.20" y2="169.60" stroke="#000" stroke-opacity="0.6" stroke-width="0.80" stroke-dasharray="1.6,0.9"/>
<polyline points="160.50,170.39 171.73,126.15 182.97,163.28 194.20,162.49 205.43,171.97 216.67,144.32 227.90,164.07 239.13,145.11 250.37,125.36 261.60,126.15" fill="none" stroke="#0000ff" stroke-opacity="0.95" stroke-width="0.65" stroke-linejoin="round"/>
<polyline points="160.50,185.40 171.73,153.80 182.97,185.40 194.20,185.40 205.43,201.20 216.67,169.60 227.90,185.40 239.13,169.60 250.37,153.80 261.60,153.80" fill="none" stroke="#ff0000" stroke-opacity="0.95" stroke-width="0.65" stroke-linejoin="round"/>
</g>
<rect x="155.50" y="121.50" width="112.00" height="83.00" fill="none" stroke="#000" stroke-opacity="0.26" stroke-width="1.25"/>
<line x1="154.00" y1="122.20" x2="155.50" y2="122.20" stroke="#000" stroke-opacity="0.35" stroke-width="0.8"/>
<text x="153.30" y="125.81" font-size="8.87" text-anchor="end" textLength="4.99" lengthAdjust="spacingAndGlyphs" fill="#000">3</text>
<line x1="154.00" y1="138.00" x2="155.50" y2="138.00" stroke="#000" stroke-opacity="0.35" stroke-width="0.8"/>
<text x="153.30" y="141.61" font-size="8.87" text-anchor="end" textLength="4.99" lengthAdjust="spacingAndGlyphs" fill="#000">2</text>
<line x1="154.00" y1="153.80" x2="155.50" y2="153.80" stroke="#000" stroke-opacity="0.35" stroke-width="0.8"/>
<text x="153.30" y="157.41" font-size="8.87" text-anchor="end" textLength="4.99" lengthAdjust="spacingAndGlyphs" fill="#000">1</text>
<line x1="154.00" y1="169.60" x2="155.50" y2="169.60" stroke="#000" stroke-opacity="0.35" stroke-width="0.8"/>
<text x="153.30" y="173.21" font-size="8.87" text-anchor="end" textLength="4.99" lengthAdjust="spacingAndGlyphs" fill="#000">0</text>
<line x1="154.00" y1="185.40" x2="155.50" y2="185.40" stroke="#000" stroke-opacity="0.35" stroke-width="0.8"/>
<text x="153.30" y="189.01" font-size="8.87" text-anchor="end" textLength="11.57" lengthAdjust="spacingAndGlyphs" fill="#000">−1</text>
<line x1="154.00" y1="201.20" x2="155.50" y2="201.20" stroke="#000" stroke-opacity="0.35" stroke-width="0.8"/>
<text x="153.30" y="204.81" font-size="8.87" text-anchor="end" textLength="11.57" lengthAdjust="spacingAndGlyphs" fill="#000">−2</text>
<line x1="160.50" y1="204.50" x2="160.50" y2="206.00" stroke="#000" stroke-opacity="0.35" stroke-width="0.8"/>
<g transform="translate(160.50,213.19) rotate(-25.0)"><text x="0.00" y="2.12" font-size="8.87" text-anchor="middle" textLength="9.51" lengthAdjust="spacingAndGlyphs" fill="#000">F1</text></g>
<line x1="171.73" y1="204.50" x2="171.73" y2="206.00" stroke="#000" stroke-opacity="0.35" stroke-width="0.8"/>
<g transform="translate(171.73,213.19) rotate(-25.0)"><text x="0.00" y="2.12" font-size="8.87" text-anchor="middle" textLength="9.51" lengthAdjust="spacingAndGlyphs" fill="#000">F2</text></g>
<line x1="182.97" y1="204.50" x2="182.97" y2="206.00" stroke="#000" stroke-opacity="0.35" stroke-width="0.8"/>
<g transform="translate(182.97,213.19) rotate(-25.0)"><text x="0.00" y="2.12" font-size="8.87" text-anchor="middle" textLength="9.51" lengthAdjust="spacingAndGlyphs" fill="#000">F3</text></g>
<line x1="194.20" y1="204.50" x2="194.20" y2="206.00" stroke="#000" stroke-opacity="0.35" stroke-width="0.8"/>
<g transform="translate(194.20,213.19) rotate(-25.0)"><text x="0.00" y="2.12" font-size="8.87" text-anchor="middle" textLength="9.51" lengthAdjust="spacingAndGlyphs" fill="#000">F4</text></g>
<line x1="205.43" y1="204.50" x2="205.43" y2="206.00" stroke="#000" stroke-opacity="0.35" stroke-width="0.8"/>
<g transform="translate(205.43,213.19) rotate(-25.0)"><text x="0.00" y="2.12" font-size="8.87" text-anchor="middle" textLength="9.51" lengthAdjust="spacingAndGlyphs" fill="#000">F5</text></g>
<line x1="216.67" y1="204.50" x2="216.67" y2="206.00" stroke="#000" stroke-opacity="0.35" stroke-width="0.8"/>
<g transform="translate(216.67,213.19) rotate(-25.0)"><text x="0.00" y="2.12" font-size="8.87" text-anchor="middle" textLength="9.51" lengthAdjust="spacingAndGlyphs" fill="#000">F6</text></g>
<line x1="227.90" y1="204.50" x2="227.90" y2="206.00" stroke="#000" stroke-opacity="0.35" stroke-width="0.8"/>
<g transform="translate(227.90,213.19) rotate(-25.0)"><text x="0.00" y="2.12" font-size="8.87" text-anchor="middle" textLength="9.51" lengthAdjust="spacingAndGlyphs" fill="#000">F7</text></g>
<line x1="239.13" y1="204.50" x2="239.13" y2="206.00" stroke="#000" stroke-opacity="0.35" stroke-width="0.8"/>
<g transform="translate(239.13,213.19) rotate(-25.0)"><text x="0.00" y="2.12" font-size="8.87" text-anchor="middle" textLength="9.51" lengthAdjust="spacingAndGlyphs" fill="#000">F8</text></g>
<line x1="250.37" y1="204.50" x2="250.37" y2="206.00" stroke="#000" stroke-opacity="0.35" stroke-width="0.8"/>
<g transform="translate(250.37,213.19) rotate(-25.0)"><text x="0.00" y="2.12" font-size="8.87" text-anchor="middle" textLength="9.51" lengthAdjust="spacingAndGlyphs" fill="#000">F9</text></g>
<line x1="261.60" y1="204.50" x2="261.60" y2="206.00" stroke="#000" stroke-opacity="0.35" stroke-width="0.8"/>
<g transform="translate(261.60,214.24) rotate(-25.0)"><text x="0.00" y="2.12" font-size="8.87" text-anchor="middle" textLength="14.50" lengthAdjust="spacingAndGlyphs" fill="#000">F10</text></g>
<text x="211.00" y="119.60" font-size="8.87" text-anchor="middle" textLength="110.95" lengthAdjust="spacingAndGlyphs" fill="#000">Spearman&#39;s correlation 0.95</text>
<rect x="197.80" y="175.80" width="64.91" height="25.27" rx="1.96" fill="#fff" fill-opacity="0.8" stroke="#d0d0d0" stroke-width="0.8"/>
<rect x="200.63" y="179.33" width="15.85" height="5.49" fill="#1f77b4"/>
<text x="222.29" y="185.14" font-size="8.87" text-anchor="start" textLength="37.23" lengthAdjust="spacingAndGlyphs" fill="#000">predicted</text>
<rect x="200.63" y="190.71" width="15.85" height="5.49" fill="#ff7f0e"/>
<text x="222.29" y="196.52" font-size="8.87" text-anchor="start" textLength="16.11" lengthAdjust="spacingAndGlyphs" fill="#000">true</text>
<clipPath id="c12"><rect x="294.20" y="121.50" width="112.20" height="82.80"/></clipPath>
<g clip-path="url(#c12)">
<rect x="296.70" y="169.55" width="2.70" height="30.49" fill="#1f77b4"/>
<rect x="299.40" y="169.55" width="2.70" height="17.43" fill="#ff7f0e"/>
<rect x="307.94" y="151.25" width="2.70" height="18.30" fill="#1f77b4"/>
<rect x="310.63" y="152.12" width="2.70" height="17.43" fill="#ff7f0e"/>
<rect x="319.17" y="169.55" width="2.70" height="31.37" fill="#1f77b4"/>
<rect x="321.87" y="169.55" width="2.70" height="17.43" fill="#ff7f0e"/>
<rect x="330.40" y="162.58" width="2.70" height="6.97" fill="#1f77b4"/>
<rect x="333.10" y="169.55" width="2.70" height="0.00" fill="#ff7f0e"/>
<rect x="341.64" y="152.12" width="2.70" height="17.43" fill="#1f77b4"/>
<rect x="344.33" y="152.12" width="2.70" height="17.43" fill="#ff7f0e"/>
<rect x="352.87" y="152.12" width="2.70" height="17.43" fill="#1f77b4"/>
<rect x="355.57" y="152.12" width="2.70" height="17.43" fill="#ff7f0e"/>
<rect x="364.10" y="169.55" width="2.70" height="29.62" fill="#1f77b4"/>
<rect x="366.80" y="169.55" width="2.70" height="17.43" fill="#ff7f0e"/>
<rect x="375.34" y="155.61" width="2.70" height="13.94" fill="#1f77b4"/>
<rect x="378.03" y="152.12" width="2.70" height="17.43" fill="#ff7f0e"/>
<rect x="386.57" y="125.99" width="2.70" height="43.56" fill="#1f77b4"/>
<rect x="389.27" y="134.70" width="2.70" height="34.85" fill="#ff7f0e"/>
<rect x="397.80" y="156.48" width="2.70" height="13.07" fill="#1f77b4"/>
<rect x="400.50" y="152.12" width="2.70" height="17.43" fill="#ff7f0e"/>
<line x1="294.20" y1="169.55" x2="406.40" y2="169.55" stroke="#000" stroke-opacity="0.6" stroke-width="0.80" stroke-dasharray="1.6,0.9"/>
<polyline points="299.40,200.04 310.63,151.25 321.87,200.92 333.10,162.58 344.33,152.12 355.57,152.12 366.80,199.17 378.03,155.61 389.27,125.99 400.50,156.48" fill="none" stroke="#0000ff" stroke-opacity="0.95" stroke-width="0.65" stroke-linejoin="round"/>
<polyline points="299.40,186.98 310.63,152.12 321.87,186.98 333.10,169.55 344.33,152.12 355.57,152.12 366.80,186.98 378.03,152.12 389.27,134.70 400.50,152.12" fill="none" stroke="#ff0000" stroke-opacity="0.95" stroke-width="0.65" stroke-linejoin="round"/>
</g>
<rect x="294.50" y="121.50" width="112.00" height="83.00" fill="none" stroke="#000" stroke-opacity="0.26" stroke-width="1.25"/>
<line x1="293.00" y1="134.70" x2="294.50" y2="134.70" stroke="#000" stroke-opacity="0.35" stroke-width="0.8"/>
<text x="292.30" y="138.34" font-size="8.94" text-anchor="end" textLength="5.03" lengthAdjust="spacingAndGlyphs" fill="#000">2</text>
<line x1="293.00" y1="152.12" x2="294.50" y2="152.12" stroke="#000" stroke-opacity="0.35" stroke-width="0.8"/>
<text x="292.30" y="155.76" font-size="8.94" text-anchor="end" textLength="5.03" lengthAdjust="spacingAndGlyphs" fill="#000">1</text>
<line x1="293.00" y1="169.55" x2="294.50" y2="169.55" stroke="#000" stroke-opacity="0.35" stroke-width="0.8"/>
<text x="292.30" y="173.19" font-size="8.94" text-anchor="end" textLength="5.03" lengthAdjust="spacingAndGlyphs" fill="#000">0</text>
<line x1="293.00" y1="186.98" x2="294.50" y2="186.98" stroke="#000" stroke-opacity="0.35" stroke-width="0.8"/>
<text x="292.30" y="190.61" font-size="8.94" text-anchor="end" textLength="11.66" lengthAdjust="spacingAndGlyphs" fill="#000">−1</text>
<line x1="293.00" y1="204.40" x2="294.50" y2="204.40" stroke="#000" stroke-opacity="0.35" stroke-width="0.8"/>
<text x="292.30" y="208.04" font-size="8.94" text-anchor="end" textLength="11.66" lengthAdjust="spacingAndGlyphs" fill="#000">−2</text>
<line x1="299.40" y1="204.50" x2="299.40" y2="206.00" stroke="#000" stroke-opacity="0.35" stroke-width="0.8"/>
<g transform="translate(299.40,213.23) rotate(-25.0)"><text x="0.00" y="2.14" font-size="8.94" text-anchor="middle" textLength="9.59" lengthAdjust="spacingAndGlyphs" fill="#000">F1</text></g>
<line x1="310.63" y1="204.50" x2="310.63" y2="206.00" stroke="#000" stroke-opacity="0.35" stroke-width="0.8"/>
<g transform="translate(310.63,213.23) rotate(-25.0)"><text x="0.00" y="2.14" font-size="8.94" text-anchor="middle" textLength="9.59" lengthAdjust="spacingAndGlyphs" fill="#000">F2</text></g>
<line x1="321.87" y1="204.50" x2="321.87" y2="206.00" stroke="#000" stroke-opacity="0.35" stroke-width="0.8"/>
<g transform="translate(321.87,213.23) rotate(-25.0)"><text x="0.00" y="2.14" font-size="8.94" text-anchor="middle" textLength="9.59" lengthAdjust="spacingAndGlyphs" fill="#000">F3</text></g>
<line x1="333.10" y1="204.50" x2="333.10" y2="206.00" stroke="#000" stroke-opacity="0.35" stroke-width="0.8"/>
<g transform="translate(333.10,213.23) rotate(-25.0)"><text x="0.00" y="2.14" font-size="8.94" text-anchor="middle" textLength="9.59" lengthAdjust="spacingAndGlyphs" fill="#000">F4</text></g>
<line x1="344.33" y1="204.50" x2="344.33" y2="206.00" stroke="#000" stroke-opacity="0.35" stroke-width="0.8"/>
<g transform="translate(344.33,213.23) rotate(-25.0)"><text x="0.00" y="2.14" font-size="8.94" text-anchor="middle" textLength="9.59" lengthAdjust="spacingAndGlyphs" fill="#000">F5</text></g>
<line x1="355.57" y1="204.50" x2="355.57" y2="206.00" stroke="#000" stroke-opacity="0.35" stroke-width="0.8"/>
<g transform="translate(355.57,213.23) rotate(-25.0)"><text x="0.00" y="2.14" font-size="8.94" text-anchor="middle" textLength="9.59" lengthAdjust="spacingAndGlyphs" fill="#000">F6</text></g>
<line x1="366.80" y1="204.50" x2="366.80" y2="206.00" stroke="#000" stroke-opacity="0.35" stroke-width="0.8"/>
<g transform="translate(366.80,213.23) rotate(-25.0)"><text x="0.00" y="2.14" font-size="8.94" text-anchor="middle" textLength="9.59" lengthAdjust="spacingAndGlyphs" fill="#000">F7</text></g>
<line x1="378.03" y1="204.50" x2="378.03" y2="206.00" stroke="#000" stroke-opacity="0.35" stroke-width="0.8"/>
<g transform="translate(378.03,213.23) rotate(-25.0)"><text x="0.00" y="2.14" font-size="8.94" text-anchor="middle" textLength="9.59" lengthAdjust="spacingAndGlyphs" fill="#000">F8</text></g>
<line x1="389.27" y1="204.50" x2="389.27" y2="206.00" stroke="#000" stroke-opacity="0.35" stroke-width="0.8"/>
<g transform="translate(389.27,213.23) rotate(-25.0)"><text x="0.00" y="2.14" font-size="8.94" text-anchor="middle" textLength="9.59" lengthAdjust="spacingAndGlyphs" fill="#000">F9</text></g>
<line x1="400.50" y1="204.50" x2="400.50" y2="206.00" stroke="#000" stroke-opacity="0.35" stroke-width="0.8"/>
<g transform="translate(400.50,214.30) rotate(-25.0)"><text x="0.00" y="2.14" font-size="8.94" text-anchor="middle" textLength="14.62" lengthAdjust="spacingAndGlyphs" fill="#000">F10</text></g>
<text x="349.85" y="119.50" font-size="8.94" text-anchor="middle" textLength="111.86" lengthAdjust="spacingAndGlyphs" fill="#000">Spearman&#39;s correlation 0.92</text>
<rect x="317.90" y="125.10" width="65.44" height="25.48" rx="1.98" fill="#fff" fill-opacity="0.8" stroke="#d0d0d0" stroke-width="0.8"/>
<rect x="320.75" y="128.66" width="15.98" height="5.54" fill="#1f77b4"/>
<text x="342.59" y="134.52" font-size="8.94" text-anchor="start" textLength="37.54" lengthAdjust="spacingAndGlyphs" fill="#000">predicted</text>
<rect x="320.75" y="140.13" width="15.98" height="5.54" fill="#ff7f0e"/>
<text x="342.59" y="145.99" font-size="8.94" text-anchor="start" textLength="16.24" lengthAdjust="spacingAndGlyphs" fill="#000">true</text>
<clipPath id="c13"><rect x="433.40" y="121.60" width="111.90" height="82.70"/></clipPath>
<g clip-path="url(#c13)">
<rect x="435.91" y="129.33" width="2.69" height="45.97" fill="#1f77b4"/>
<rect x="438.60" y="162.35" width="2.69" height="12.95" fill="#ff7f0e"/>
<rect x="447.12" y="170.77" width="2.69" height="4.53" fill="#1f77b4"/>
<rect x="449.81" y="175.30" width="2.69" height="12.95" fill="#ff7f0e"/>
<rect x="458.33" y="131.27" width="2.69" height="44.03" fill="#1f77b4"/>
<rect x="461.02" y="162.35" width="2.69" height="12.95" fill="#ff7f0e"/>
<rect x="469.54" y="172.06" width="2.69" height="3.24" fill="#1f77b4"/>
<rect x="472.23" y="175.30" width="2.69" height="25.90" fill="#ff7f0e"/>
<rect x="480.75" y="166.23" width="2.69" height="9.06" fill="#1f77b4"/>
<rect x="483.44" y="175.30" width="2.69" height="12.95" fill="#ff7f0e"/>
<rect x="491.96" y="172.06" width="2.69" height="3.24" fill="#1f77b4"/>
<rect x="494.66" y="175.30" width="2.69" height="12.95" fill="#ff7f0e"/>
<rect x="503.18" y="150.05" width="2.69" height="25.25" fill="#1f77b4"/>
<rect x="505.87" y="175.30" width="2.69" height="0.00" fill="#ff7f0e"/>
<rect x="514.39" y="125.44" width="2.69" height="49.86" fill="#1f77b4"/>
<rect x="517.08" y="162.35" width="2.69" height="12.95" fill="#ff7f0e"/>
<rect x="525.60" y="129.97" width="2.69" height="45.32" fill="#1f77b4"/>
<rect x="528.29" y="162.35" width="2.69" height="12.95" fill="#ff7f0e"/>
<rect x="536.81" y="132.56" width="2.69" height="42.73" fill="#1f77b4"/>
<rect x="539.50" y="162.35" width="2.69" height="12.95" fill="#ff7f0e"/>
<line x1="433.40" y1="175.30" x2="545.30" y2="175.30" stroke="#000" stroke-opacity="0.6" stroke-width="0.80" stroke-dasharray="1.6,0.9"/>
<polyline points="438.60,129.33 449.81,170.77 461.02,131.27 472.23,172.06 483.44,166.23 494.66,172.06 505.87,150.05 517.08,125.44 528.29,129.97 539.50,132.56" fill="none" stroke="#0000ff" stroke-opacity="0.95" stroke-width="0.65" stroke-linejoin="round"/>
<polyline points="438.60,162.35 449.81,188.25 461.02,162.35 472.23,201.20 483.44,188.25 494.66,188.25 505.87,175.30 517.08,162.35 528.29,162.35 539.50,162.35" fill="none" stroke="#ff0000" stroke-opacity="0.95" stroke-width="0.65" stroke-linejoin="round"/>
</g>
<rect x="433.50" y="121.50" width="112.00" height="83.00" fill="none" stroke="#000" stroke-opacity="0.26" stroke-width="1.25"/>
<line x1="432.00" y1="123.50" x2="433.50" y2="123.50" stroke="#000" stroke-opacity="0.35" stroke-width="0.8"/>
<text x="431.50" y="127.11" font-size="8.87" text-anchor="end" textLength="4.99" lengthAdjust="spacingAndGlyphs" fill="#000">4</text>
<line x1="432.00" y1="136.45" x2="433.50" y2="136.45" stroke="#000" stroke-opacity="0.35" stroke-width="0.8"/>
<text x="431.50" y="140.06" font-size="8.87" text-anchor="end" textLength="4.99" lengthAdjust="spacingAndGlyphs" fill="#000">3</text>
<line x1="432.00" y1="149.40" x2="433.50" y2="149.40" stroke="#000" stroke-opacity="0.35" stroke-width="0.8"/>
<text x="431.50" y="153.01" font-size="8.87" text-anchor="end" textLength="4.99" lengthAdjust="spacingAndGlyphs" fill="#000">2</text>
<line x1="432.00" y1="162.35" x2="433.50" y2="162.35" stroke="#000" stroke-opacity="0.35" stroke-width="0.8"/>
<text x="431.50" y="165.96" font-size="8.87" text-anchor="end" textLength="4.99" lengthAdjust="spacingAndGlyphs" fill="#000">1</text>
<line x1="432.00" y1="175.30" x2="433.50" y2="175.30" stroke="#000" stroke-opacity="0.35" stroke-width="0.8"/>
<text x="431.50" y="178.91" font-size="8.87" text-anchor="end" textLength="4.99" lengthAdjust="spacingAndGlyphs" fill="#000">0</text>
<line x1="432.00" y1="188.25" x2="433.50" y2="188.25" stroke="#000" stroke-opacity="0.35" stroke-width="0.8"/>
<text x="431.50" y="191.86" font-size="8.87" text-anchor="end" textLength="11.57" lengthAdjust="spacingAndGlyphs" fill="#000">−1</text>
<line x1="432.00" y1="201.20" x2="433.50" y2="201.20" stroke="#000" stroke-opacity="0.35" stroke-width="0.8"/>
<text x="431.50" y="204.81" font-size="8.87" text-anchor="end" textLength="11.57" lengthAdjust="spacingAndGlyphs" fill="#000">−2</text>
<line x1="438.60" y1="204.50" x2="438.60" y2="206.00" stroke="#000" stroke-opacity="0.35" stroke-width="0.8"/>
<g transform="translate(438.60,213.19) rotate(-25.0)"><text x="0.00" y="2.12" font-size="8.87" text-anchor="middle" textLength="9.51" lengthAdjust="spacingAndGlyphs" fill="#000">F1</text></g>
<line x1="449.81" y1="204.50" x2="449.81" y2="206.00" stroke="#000" stroke-opacity="0.35" stroke-width="0.8"/>
<g transform="translate(449.81,213.19) rotate(-25.0)"><text x="0.00" y="2.12" font-size="8.87" text-anchor="middle" textLength="9.51" lengthAdjust="spacingAndGlyphs" fill="#000">F2</text></g>
<line x1="461.02" y1="204.50" x2="461.02" y2="206.00" stroke="#000" stroke-opacity="0.35" stroke-width="0.8"/>
<g transform="translate(461.02,213.19) rotate(-25.0)"><text x="0.00" y="2.12" font-size="8.87" text-anchor="middle" textLength="9.51" lengthAdjust="spacingAndGlyphs" fill="#000">F3</text></g>
<line x1="472.23" y1="204.50" x2="472.23" y2="206.00" stroke="#000" stroke-opacity="0.35" stroke-width="0.8"/>
<g transform="translate(472.23,213.19) rotate(-25.0)"><text x="0.00" y="2.12" font-size="8.87" text-anchor="middle" textLength="9.51" lengthAdjust="spacingAndGlyphs" fill="#000">F4</text></g>
<line x1="483.44" y1="204.50" x2="483.44" y2="206.00" stroke="#000" stroke-opacity="0.35" stroke-width="0.8"/>
<g transform="translate(483.44,213.19) rotate(-25.0)"><text x="0.00" y="2.12" font-size="8.87" text-anchor="middle" textLength="9.51" lengthAdjust="spacingAndGlyphs" fill="#000">F5</text></g>
<line x1="494.66" y1="204.50" x2="494.66" y2="206.00" stroke="#000" stroke-opacity="0.35" stroke-width="0.8"/>
<g transform="translate(494.66,213.19) rotate(-25.0)"><text x="0.00" y="2.12" font-size="8.87" text-anchor="middle" textLength="9.51" lengthAdjust="spacingAndGlyphs" fill="#000">F6</text></g>
<line x1="505.87" y1="204.50" x2="505.87" y2="206.00" stroke="#000" stroke-opacity="0.35" stroke-width="0.8"/>
<g transform="translate(505.87,213.19) rotate(-25.0)"><text x="0.00" y="2.12" font-size="8.87" text-anchor="middle" textLength="9.51" lengthAdjust="spacingAndGlyphs" fill="#000">F7</text></g>
<line x1="517.08" y1="204.50" x2="517.08" y2="206.00" stroke="#000" stroke-opacity="0.35" stroke-width="0.8"/>
<g transform="translate(517.08,213.19) rotate(-25.0)"><text x="0.00" y="2.12" font-size="8.87" text-anchor="middle" textLength="9.51" lengthAdjust="spacingAndGlyphs" fill="#000">F8</text></g>
<line x1="528.29" y1="204.50" x2="528.29" y2="206.00" stroke="#000" stroke-opacity="0.35" stroke-width="0.8"/>
<g transform="translate(528.29,213.19) rotate(-25.0)"><text x="0.00" y="2.12" font-size="8.87" text-anchor="middle" textLength="9.51" lengthAdjust="spacingAndGlyphs" fill="#000">F9</text></g>
<line x1="539.50" y1="204.50" x2="539.50" y2="206.00" stroke="#000" stroke-opacity="0.35" stroke-width="0.8"/>
<g transform="translate(539.50,214.24) rotate(-25.0)"><text x="0.00" y="2.12" font-size="8.87" text-anchor="middle" textLength="14.50" lengthAdjust="spacingAndGlyphs" fill="#000">F10</text></g>
<text x="489.20" y="119.60" font-size="8.87" text-anchor="middle" textLength="110.95" lengthAdjust="spacingAndGlyphs" fill="#000">Spearman&#39;s correlation 0.90</text>
<rect x="437.40" y="125.10" width="64.91" height="25.27" rx="1.96" fill="#fff" fill-opacity="0.8" stroke="#d0d0d0" stroke-width="0.8"/>
<rect x="440.23" y="128.63" width="15.85" height="5.49" fill="#1f77b4"/>
<text x="461.89" y="134.44" font-size="8.87" text-anchor="start" textLength="37.23" lengthAdjust="spacingAndGlyphs" fill="#000">predicted</text>
<rect x="440.23" y="140.01" width="15.85" height="5.49" fill="#ff7f0e"/>
<text x="461.89" y="145.82" font-size="8.87" text-anchor="start" textLength="16.11" lengthAdjust="spacingAndGlyphs" fill="#000">true</text>
<clipPath id="c14"><rect x="572.20" y="121.50" width="111.80" height="82.80"/></clipPath>
<g clip-path="url(#c14)">
<rect x="574.81" y="141.33" width="2.69" height="35.14" fill="#1f77b4"/>
<rect x="577.50" y="164.35" width="2.69" height="12.12" fill="#ff7f0e"/>
<rect x="586.01" y="137.69" width="2.69" height="38.77" fill="#1f77b4"/>
<rect x="588.70" y="164.35" width="2.69" height="12.12" fill="#ff7f0e"/>
<rect x="597.21" y="175.86" width="2.69" height="0.61" fill="#1f77b4"/>
<rect x="599.90" y="176.47" width="2.69" height="12.12" fill="#ff7f0e"/>
<rect x="608.41" y="169.80" width="2.69" height="6.66" fill="#1f77b4"/>
<rect x="611.10" y="176.47" width="2.69" height="12.12" fill="#ff7f0e"/>
<rect x="619.61" y="170.41" width="2.69" height="6.06" fill="#1f77b4"/>
<rect x="622.30" y="176.47" width="2.69" height="12.12" fill="#ff7f0e"/>
<rect x="630.81" y="176.47" width="2.69" height="2.42" fill="#1f77b4"/>
<rect x="633.50" y="176.47" width="2.69" height="12.12" fill="#ff7f0e"/>
<rect x="642.01" y="157.69" width="2.69" height="18.78" fill="#1f77b4"/>
<rect x="644.70" y="176.47" width="2.69" height="0.00" fill="#ff7f0e"/>
<rect x="653.21" y="176.47" width="2.69" height="17.57" fill="#1f77b4"/>
<rect x="655.90" y="176.47" width="2.69" height="24.23" fill="#ff7f0e"/>
<rect x="664.41" y="124.97" width="2.69" height="51.50" fill="#1f77b4"/>
<rect x="667.10" y="152.23" width="2.69" height="24.23" fill="#ff7f0e"/>
<rect x="675.61" y="176.47" width="2.69" height="0.00" fill="#1f77b4"/>
<rect x="678.30" y="176.47" width="2.69" height="12.12" fill="#ff7f0e"/>
<line x1="572.20" y1="176.47" x2="684.00" y2="176.47" stroke="#000" stroke-opacity="0.6" stroke-width="0.80" stroke-dasharray="1.6,0.9"/>
<polyline points="577.50,141.33 588.70,137.69 599.90,175.86 611.10,169.80 622.30,170.41 633.50,178.89 644.70,157.69 655.90,194.04 667.10,124.97 678.30,176.47" fill="none" stroke="#0000ff" stroke-opacity="0.95" stroke-width="0.65" stroke-linejoin="round"/>
<polyline points="577.50,164.35 588.70,164.35 599.90,188.58 611.10,188.58 622.30,188.58 633.50,188.58 644.70,176.47 655.90,200.70 667.10,152.23 678.30,188.58" fill="none" stroke="#ff0000" stroke-opacity="0.95" stroke-width="0.65" stroke-linejoin="round"/>
</g>
<rect x="572.50" y="121.50" width="112.00" height="83.00" fill="none" stroke="#000" stroke-opacity="0.26" stroke-width="1.25"/>
<line x1="571.00" y1="128.00" x2="572.50" y2="128.00" stroke="#000" stroke-opacity="0.35" stroke-width="0.8"/>
<text x="570.30" y="131.64" font-size="8.95" text-anchor="end" textLength="5.04" lengthAdjust="spacingAndGlyphs" fill="#000">4</text>
<line x1="571.00" y1="140.12" x2="572.50" y2="140.12" stroke="#000" stroke-opacity="0.35" stroke-width="0.8"/>
<text x="570.30" y="143.76" font-size="8.95" text-anchor="end" textLength="5.04" lengthAdjust="spacingAndGlyphs" fill="#000">3</text>
<line x1="571.00" y1="152.23" x2="572.50" y2="152.23" stroke="#000" stroke-opacity="0.35" stroke-width="0.8"/>
<text x="570.30" y="155.88" font-size="8.95" text-anchor="end" textLength="5.04" lengthAdjust="spacingAndGlyphs" fill="#000">2</text>
<line x1="571.00" y1="164.35" x2="572.50" y2="164.35" stroke="#000" stroke-opacity="0.35" stroke-width="0.8"/>
<text x="570.30" y="167.99" font-size="8.95" text-anchor="end" textLength="5.04" lengthAdjust="spacingAndGlyphs" fill="#000">1</text>
<line x1="571.00" y1="176.47" x2="572.50" y2="176.47" stroke="#000" stroke-opacity="0.35" stroke-width="0.8"/>
<text x="570.30" y="180.11" font-size="8.95" text-anchor="end" textLength="5.04" lengthAdjust="spacingAndGlyphs" fill="#000">0</text>
<line x1="571.00" y1="188.58" x2="572.50" y2="188.58" stroke="#000" stroke-opacity="0.35" stroke-width="0.8"/>
<text x="570.30" y="192.23" font-size="8.95" text-anchor="end" textLength="11.68" lengthAdjust="spacingAndGlyphs" fill="#000">−1</text>
<line x1="571.00" y1="200.70" x2="572.50" y2="200.70" stroke="#000" stroke-opacity="0.35" stroke-width="0.8"/>
<text x="570.30" y="204.34" font-size="8.95" text-anchor="end" textLength="11.68" lengthAdjust="spacingAndGlyphs" fill="#000">−2</text>
<line x1="577.50" y1="204.50" x2="577.50" y2="206.00" stroke="#000" stroke-opacity="0.35" stroke-width="0.8"/>
<g transform="translate(577.50,213.24) rotate(-25.0)"><text x="0.00" y="2.14" font-size="8.95" text-anchor="middle" textLength="9.59" lengthAdjust="spacingAndGlyphs" fill="#000">F1</text></g>
<line x1="588.70" y1="204.50" x2="588.70" y2="206.00" stroke="#000" stroke-opacity="0.35" stroke-width="0.8"/>
<g transform="translate(588.70,213.24) rotate(-25.0)"><text x="0.00" y="2.14" font-size="8.95" text-anchor="middle" textLength="9.59" lengthAdjust="spacingAndGlyphs" fill="#000">F2</text></g>
<line x1="599.90" y1="204.50" x2="599.90" y2="206.00" stroke="#000" stroke-opacity="0.35" stroke-width="0.8"/>
<g transform="translate(599.90,213.24) rotate(-25.0)"><text x="0.00" y="2.14" font-size="8.95" text-anchor="middle" textLength="9.59" lengthAdjust="spacingAndGlyphs" fill="#000">F3</text></g>
<line x1="611.10" y1="204.50" x2="611.10" y2="206.00" stroke="#000" stroke-opacity="0.35" stroke-width="0.8"/>
<g transform="translate(611.10,213.24) rotate(-25.0)"><text x="0.00" y="2.14" font-size="8.95" text-anchor="middle" textLength="9.59" lengthAdjust="spacingAndGlyphs" fill="#000">F4</text></g>
<line x1="622.30" y1="204.50" x2="622.30" y2="206.00" stroke="#000" stroke-opacity="0.35" stroke-width="0.8"/>
<g transform="translate(622.30,213.24) rotate(-25.0)"><text x="0.00" y="2.14" font-size="8.95" text-anchor="middle" textLength="9.59" lengthAdjust="spacingAndGlyphs" fill="#000">F5</text></g>
<line x1="633.50" y1="204.50" x2="633.50" y2="206.00" stroke="#000" stroke-opacity="0.35" stroke-width="0.8"/>
<g transform="translate(633.50,213.24) rotate(-25.0)"><text x="0.00" y="2.14" font-size="8.95" text-anchor="middle" textLength="9.59" lengthAdjust="spacingAndGlyphs" fill="#000">F6</text></g>
<line x1="644.70" y1="204.50" x2="644.70" y2="206.00" stroke="#000" stroke-opacity="0.35" stroke-width="0.8"/>
<g transform="translate(644.70,213.24) rotate(-25.0)"><text x="0.00" y="2.14" font-size="8.95" text-anchor="middle" textLength="9.59" lengthAdjust="spacingAndGlyphs" fill="#000">F7</text></g>
<line x1="655.90" y1="204.50" x2="655.90" y2="206.00" stroke="#000" stroke-opacity="0.35" stroke-width="0.8"/>
<g transform="translate(655.90,213.24) rotate(-25.0)"><text x="0.00" y="2.14" font-size="8.95" text-anchor="middle" textLength="9.59" lengthAdjust="spacingAndGlyphs" fill="#000">F8</text></g>
<line x1="667.10" y1="204.50" x2="667.10" y2="206.00" stroke="#000" stroke-opacity="0.35" stroke-width="0.8"/>
<g transform="translate(667.10,213.24) rotate(-25.0)"><text x="0.00" y="2.14" font-size="8.95" text-anchor="middle" textLength="9.59" lengthAdjust="spacingAndGlyphs" fill="#000">F9</text></g>
<line x1="678.30" y1="204.50" x2="678.30" y2="206.00" stroke="#000" stroke-opacity="0.35" stroke-width="0.8"/>
<g transform="translate(678.30,214.30) rotate(-25.0)"><text x="0.00" y="2.14" font-size="8.95" text-anchor="middle" textLength="14.63" lengthAdjust="spacingAndGlyphs" fill="#000">F10</text></g>
<text x="628.10" y="119.50" font-size="8.95" text-anchor="middle" textLength="111.96" lengthAdjust="spacingAndGlyphs" fill="#000">Spearman&#39;s correlation 0.93</text>
<rect x="596.00" y="125.40" width="65.50" height="25.50" rx="1.98" fill="#fff" fill-opacity="0.8" stroke="#d0d0d0" stroke-width="0.8"/>
<rect x="598.85" y="128.96" width="16.00" height="5.54" fill="#1f77b4"/>
<text x="620.71" y="134.82" font-size="8.95" text-anchor="start" textLength="37.57" lengthAdjust="spacingAndGlyphs" fill="#000">predicted</text>
<rect x="598.85" y="140.45" width="16.00" height="5.54" fill="#ff7f0e"/>
<text x="620.71" y="146.31" font-size="8.95" text-anchor="start" textLength="16.25" lengthAdjust="spacingAndGlyphs" fill="#000">true</text>
<clipPath id="c20"><rect x="16.50" y="234.50" width="111.50" height="83.50"/></clipPath>
<g clip-path="url(#c20)">
<rect x="18.81" y="275.98" width="2.69" height="7.00" fill="#1f77b4"/>
<rect x="21.50" y="282.98" width="2.69" height="15.56" fill="#ff7f0e"/>
<rect x="30.02" y="282.98" width="2.69" height="10.11" fill="#1f77b4"/>
<rect x="32.71" y="282.98" width="2.69" height="31.12" fill="#ff7f0e"/>
<rect x="41.23" y="251.08" width="2.69" height="31.90" fill="#1f77b4"/>
<rect x="43.92" y="267.42" width="2.69" height="15.56" fill="#ff7f0e"/>
<rect x="52.44" y="238.63" width="2.69" height="44.35" fill="#1f77b4"/>
<rect x="55.13" y="251.86" width="2.69" height="31.12" fill="#ff7f0e"/>
<rect x="63.65" y="278.31" width="2.69" height="4.67" fill="#1f77b4"/>
<rect x="66.34" y="282.98" width="2.69" height="31.12" fill="#ff7f0e"/>
<rect x="74.86" y="263.53" width="2.69" height="19.45" fill="#1f77b4"/>
<rect x="77.56" y="282.98" width="2.69" height="0.00" fill="#ff7f0e"/>
<rect x="86.08" y="251.08" width="2.69" height="31.90" fill="#1f77b4"/>
<rect x="88.77" y="267.42" width="2.69" height="15.56" fill="#ff7f0e"/>
<rect x="97.29" y="246.41" width="2.69" height="36.57" fill="#1f77b4"/>
<rect x="99.98" y="267.42" width="2.69" height="15.56" fill="#ff7f0e"/>
<rect x="108.50" y="277.53" width="2.69" height="5.45" fill="#1f77b4"/>
<rect x="111.19" y="282.98" width="2.69" height="15.56" fill="#ff7f0e"/>
<rect x="119.71" y="248.75" width="2.69" height="34.23" fill="#1f77b4"/>
<rect x="122.40" y="267.42" width="2.69" height="15.56" fill="#ff7f0e"/>
<line x1="16.50" y1="282.98" x2="128.00" y2="282.98" stroke="#000" stroke-opacity="0.6" stroke-width="0.80" stroke-dasharray="1.6,0.9"/>
<polyline points="21.50,275.98 32.71,293.09 43.92,251.08 55.13,238.63 66.34,278.31 77.56,263.53 88.77,251.08 99.98,246.41 111.19,277.53 122.40,248.75" fill="none" stroke="#0000ff" stroke-opacity="0.95" stroke-width="0.65" stroke-linejoin="round"/>
<polyline points="21.50,298.54 32.71,314.10 43.92,267.42 55.13,251.86 66.34,314.10 77.56,282.98 88.77,267.42 99.98,267.42 111.19,298.54 122.40,267.42" fill="none" stroke="#ff0000" stroke-opacity="0.95" stroke-width="0.65" stroke-linejoin="round"/>
</g>
<rect x="16.50" y="234.50" width="112.00" height="84.00" fill="none" stroke="#000" stroke-opacity="0.26" stroke-width="1.25"/>
<line x1="15.00" y1="236.30" x2="16.50" y2="236.30" stroke="#000" stroke-opacity="0.35" stroke-width="0.8"/>
<text x="14.60" y="239.92" font-size="8.90" text-anchor="end" textLength="5.01" lengthAdjust="spacingAndGlyphs" fill="#000">3</text>
<line x1="15.00" y1="251.86" x2="16.50" y2="251.86" stroke="#000" stroke-opacity="0.35" stroke-width="0.8"/>
<text x="14.60" y="255.48" font-size="8.90" text-anchor="end" textLength="5.01" lengthAdjust="spacingAndGlyphs" fill="#000">2</text>
<line x1="15.00" y1="267.42" x2="16.50" y2="267.42" stroke="#000" stroke-opacity="0.35" stroke-width="0.8"/>
<text x="14.60" y="271.04" font-size="8.90" text-anchor="end" textLength="5.01" lengthAdjust="spacingAndGlyphs" fill="#000">1</text>
<line x1="15.00" y1="282.98" x2="16.50" y2="282.98" stroke="#000" stroke-opacity="0.35" stroke-width="0.8"/>
<text x="14.60" y="286.60" font-size="8.90" text-anchor="end" textLength="5.01" lengthAdjust="spacingAndGlyphs" fill="#000">0</text>
<line x1="15.00" y1="298.54" x2="16.50" y2="298.54" stroke="#000" stroke-opacity="0.35" stroke-width="0.8"/>
<text x="14.60" y="302.16" font-size="8.90" text-anchor="end" textLength="11.61" lengthAdjust="spacingAndGlyphs" fill="#000">−1</text>
<line x1="15.00" y1="314.10" x2="16.50" y2="314.10" stroke="#000" stroke-opacity="0.35" stroke-width="0.8"/>
<text x="14.60" y="317.72" font-size="8.90" text-anchor="end" textLength="11.61" lengthAdjust="spacingAndGlyphs" fill="#000">−2</text>
<line x1="21.50" y1="318.50" x2="21.50" y2="320.00" stroke="#000" stroke-opacity="0.35" stroke-width="0.8"/>
<g transform="translate(21.50,326.91) rotate(-25.0)"><text x="0.00" y="2.13" font-size="8.90" text-anchor="middle" textLength="9.54" lengthAdjust="spacingAndGlyphs" fill="#000">F1</text></g>
<line x1="32.71" y1="318.50" x2="32.71" y2="320.00" stroke="#000" stroke-opacity="0.35" stroke-width="0.8"/>
<g transform="translate(32.71,326.91) rotate(-25.0)"><text x="0.00" y="2.13" font-size="8.90" text-anchor="middle" textLength="9.54" lengthAdjust="spacingAndGlyphs" fill="#000">F2</text></g>
<line x1="43.92" y1="318.50" x2="43.92" y2="320.00" stroke="#000" stroke-opacity="0.35" stroke-width="0.8"/>
<g transform="translate(43.92,326.91) rotate(-25.0)"><text x="0.00" y="2.13" font-size="8.90" text-anchor="middle" textLength="9.54" lengthAdjust="spacingAndGlyphs" fill="#000">F3</text></g>
<line x1="55.13" y1="318.50" x2="55.13" y2="320.00" stroke="#000" stroke-opacity="0.35" stroke-width="0.8"/>
<g transform="translate(55.13,326.91) rotate(-25.0)"><text x="0.00" y="2.13" font-size="8.90" text-anchor="middle" textLength="9.54" lengthAdjust="spacingAndGlyphs" fill="#000">F4</text></g>
<line x1="66.34" y1="318.50" x2="66.34" y2="320.00" stroke="#000" stroke-opacity="0.35" stroke-width="0.8"/>
<g transform="translate(66.34,326.91) rotate(-25.0)"><text x="0.00" y="2.13" font-size="8.90" text-anchor="middle" textLength="9.54" lengthAdjust="spacingAndGlyphs" fill="#000">F5</text></g>
<line x1="77.56" y1="318.50" x2="77.56" y2="320.00" stroke="#000" stroke-opacity="0.35" stroke-width="0.8"/>
<g transform="translate(77.56,326.91) rotate(-25.0)"><text x="0.00" y="2.13" font-size="8.90" text-anchor="middle" textLength="9.54" lengthAdjust="spacingAndGlyphs" fill="#000">F6</text></g>
<line x1="88.77" y1="318.50" x2="88.77" y2="320.00" stroke="#000" stroke-opacity="0.35" stroke-width="0.8"/>
<g transform="translate(88.77,326.91) rotate(-25.0)"><text x="0.00" y="2.13" font-size="8.90" text-anchor="middle" textLength="9.54" lengthAdjust="spacingAndGlyphs" fill="#000">F7</text></g>
<line x1="99.98" y1="318.50" x2="99.98" y2="320.00" stroke="#000" stroke-opacity="0.35" stroke-width="0.8"/>
<g transform="translate(99.98,326.91) rotate(-25.0)"><text x="0.00" y="2.13" font-size="8.90" text-anchor="middle" textLength="9.54" lengthAdjust="spacingAndGlyphs" fill="#000">F8</text></g>
<line x1="111.19" y1="318.50" x2="111.19" y2="320.00" stroke="#000" stroke-opacity="0.35" stroke-width="0.8"/>
<g transform="translate(111.19,326.91) rotate(-25.0)"><text x="0.00" y="2.13" font-size="8.90" text-anchor="middle" textLength="9.54" lengthAdjust="spacingAndGlyphs" fill="#000">F9</text></g>
<line x1="122.40" y1="318.50" x2="122.40" y2="320.00" stroke="#000" stroke-opacity="0.35" stroke-width="0.8"/>
<g transform="translate(122.40,327.97) rotate(-25.0)"><text x="0.00" y="2.13" font-size="8.90" text-anchor="middle" textLength="14.55" lengthAdjust="spacingAndGlyphs" fill="#000">F10</text></g>
<text x="71.80" y="232.50" font-size="8.90" text-anchor="middle" textLength="111.35" lengthAdjust="spacingAndGlyphs" fill="#000">Spearman&#39;s correlation 0.96</text>
<rect x="39.60" y="288.50" width="65.15" height="25.36" rx="1.97" fill="#fff" fill-opacity="0.8" stroke="#d0d0d0" stroke-width="0.8"/>
<rect x="42.44" y="292.04" width="15.91" height="5.51" fill="#1f77b4"/>
<text x="64.18" y="297.87" font-size="8.90" text-anchor="start" textLength="37.37" lengthAdjust="spacingAndGlyphs" fill="#000">predicted</text>
<rect x="42.44" y="303.47" width="15.91" height="5.51" fill="#ff7f0e"/>
<text x="64.18" y="309.30" font-size="8.90" text-anchor="start" textLength="16.17" lengthAdjust="spacingAndGlyphs" fill="#000">true</text>
<clipPath id="c21"><rect x="155.20" y="234.50" width="112.20" height="83.70"/></clipPath>
<g clip-path="url(#c21)">
<rect x="157.81" y="274.05" width="2.69" height="17.88" fill="#1f77b4"/>
<rect x="160.50" y="274.05" width="2.69" height="0.00" fill="#ff7f0e"/>
<rect x="169.02" y="274.05" width="2.69" height="20.56" fill="#1f77b4"/>
<rect x="171.71" y="274.05" width="2.69" height="0.00" fill="#ff7f0e"/>
<rect x="180.23" y="274.05" width="2.69" height="12.51" fill="#1f77b4"/>
<rect x="182.92" y="274.05" width="2.69" height="0.00" fill="#ff7f0e"/>
<rect x="191.44" y="246.34" width="2.69" height="27.71" fill="#1f77b4"/>
<rect x="194.13" y="238.30" width="2.69" height="35.75" fill="#ff7f0e"/>
<rect x="202.65" y="264.22" width="2.69" height="9.83" fill="#1f77b4"/>
<rect x="205.34" y="256.18" width="2.69" height="17.88" fill="#ff7f0e"/>
<rect x="213.86" y="274.05" width="2.69" height="39.32" fill="#1f77b4"/>
<rect x="216.56" y="274.05" width="2.69" height="17.88" fill="#ff7f0e"/>
<rect x="225.08" y="254.39" width="2.69" height="19.66" fill="#1f77b4"/>
<rect x="227.77" y="238.30" width="2.69" height="35.75" fill="#ff7f0e"/>
<rect x="236.29" y="274.05" width="2.69" height="31.28" fill="#1f77b4"/>
<rect x="238.98" y="274.05" width="2.69" height="17.88" fill="#ff7f0e"/>
<rect x="247.50" y="265.11" width="2.69" height="8.94" fill="#1f77b4"/>
<rect x="250.19" y="256.18" width="2.69" height="17.88" fill="#ff7f0e"/>
<rect x="258.71" y="264.22" width="2.69" height="9.83" fill="#1f77b4"/>
<rect x="261.40" y="256.18" width="2.69" height="17.88" fill="#ff7f0e"/>
<line x1="155.20" y1="274.05" x2="267.40" y2="274.05" stroke="#000" stroke-opacity="0.6" stroke-width="0.80" stroke-dasharray="1.6,0.9"/>
<polyline points="160.50,291.93 171.71,294.61 182.92,286.56 194.13,246.34 205.34,264.22 216.56,313.38 227.77,254.39 238.98,305.33 250.19,265.11 261.40,264.22" fill="none" stroke="#0000ff" stroke-opacity="0.95" stroke-width="0.65" stroke-linejoin="round"/>
<polyline points="160.50,274.05 171.71,274.05 182.92,274.05 194.13,238.30 205.34,256.18 216.56,291.93 227.77,238.30 238.98,291.93 250.19,256.18 261.40,256.18" fill="none" stroke="#ff0000" stroke-opacity="0.95" stroke-width="0.65" stroke-linejoin="round"/>
</g>
<rect x="155.50" y="234.50" width="112.00" height="84.00" fill="none" stroke="#000" stroke-opacity="0.26" stroke-width="1.25"/>
<line x1="154.00" y1="238.30" x2="155.50" y2="238.30" stroke="#000" stroke-opacity="0.35" stroke-width="0.8"/>
<text x="153.30" y="241.92" font-size="8.90" text-anchor="end" textLength="5.01" lengthAdjust="spacingAndGlyphs" fill="#000">2</text>
<line x1="154.00" y1="256.18" x2="155.50" y2="256.18" stroke="#000" stroke-opacity="0.35" stroke-width="0.8"/>
<text x="153.30" y="259.80" font-size="8.90" text-anchor="end" textLength="5.01" lengthAdjust="spacingAndGlyphs" fill="#000">1</text>
<line x1="154.00" y1="274.05" x2="155.50" y2="274.05" stroke="#000" stroke-opacity="0.35" stroke-width="0.8"/>
<text x="153.30" y="277.67" font-size="8.90" text-anchor="end" textLength="5.01" lengthAdjust="spacingAndGlyphs" fill="#000">0</text>
<line x1="154.00" y1="291.93" x2="155.50" y2="291.93" stroke="#000" stroke-opacity="0.35" stroke-width="0.8"/>
<text x="153.30" y="295.55" font-size="8.90" text-anchor="end" textLength="11.61" lengthAdjust="spacingAndGlyphs" fill="#000">−1</text>
<line x1="154.00" y1="309.80" x2="155.50" y2="309.80" stroke="#000" stroke-opacity="0.35" stroke-width="0.8"/>
<text x="153.30" y="313.42" font-size="8.90" text-anchor="end" textLength="11.61" lengthAdjust="spacingAndGlyphs" fill="#000">−2</text>
<line x1="160.50" y1="318.50" x2="160.50" y2="320.00" stroke="#000" stroke-opacity="0.35" stroke-width="0.8"/>
<g transform="translate(160.50,327.11) rotate(-25.0)"><text x="0.00" y="2.13" font-size="8.90" text-anchor="middle" textLength="9.54" lengthAdjust="spacingAndGlyphs" fill="#000">F1</text></g>
<line x1="171.71" y1="318.50" x2="171.71" y2="320.00" stroke="#000" stroke-opacity="0.35" stroke-width="0.8"/>
<g transform="translate(171.71,327.11) rotate(-25.0)"><text x="0.00" y="2.13" font-size="8.90" text-anchor="middle" textLength="9.54" lengthAdjust="spacingAndGlyphs" fill="#000">F2</text></g>
<line x1="182.92" y1="318.50" x2="182.92" y2="320.00" stroke="#000" stroke-opacity="0.35" stroke-width="0.8"/>
<g transform="translate(182.92,327.11) rotate(-25.0)"><text x="0.00" y="2.13" font-size="8.90" text-anchor="middle" textLength="9.54" lengthAdjust="spacingAndGlyphs" fill="#000">F3</text></g>
<line x1="194.13" y1="318.50" x2="194.13" y2="320.00" stroke="#000" stroke-opacity="0.35" stroke-width="0.8"/>
<g transform="translate(194.13,327.11) rotate(-25.0)"><text x="0.00" y="2.13" font-size="8.90" text-anchor="middle" textLength="9.54" lengthAdjust="spacingAndGlyphs" fill="#000">F4</text></g>
<line x1="205.34" y1="318.50" x2="205.34" y2="320.00" stroke="#000" stroke-opacity="0.35" stroke-width="0.8"/>
<g transform="translate(205.34,327.11) rotate(-25.0)"><text x="0.00" y="2.13" font-size="8.90" text-anchor="middle" textLength="9.54" lengthAdjust="spacingAndGlyphs" fill="#000">F5</text></g>
<line x1="216.56" y1="318.50" x2="216.56" y2="320.00" stroke="#000" stroke-opacity="0.35" stroke-width="0.8"/>
<g transform="translate(216.56,327.11) rotate(-25.0)"><text x="0.00" y="2.13" font-size="8.90" text-anchor="middle" textLength="9.54" lengthAdjust="spacingAndGlyphs" fill="#000">F6</text></g>
<line x1="227.77" y1="318.50" x2="227.77" y2="320.00" stroke="#000" stroke-opacity="0.35" stroke-width="0.8"/>
<g transform="translate(227.77,327.11) rotate(-25.0)"><text x="0.00" y="2.13" font-size="8.90" text-anchor="middle" textLength="9.54" lengthAdjust="spacingAndGlyphs" fill="#000">F7</text></g>
<line x1="238.98" y1="318.50" x2="238.98" y2="320.00" stroke="#000" stroke-opacity="0.35" stroke-width="0.8"/>
<g transform="translate(238.98,327.11) rotate(-25.0)"><text x="0.00" y="2.13" font-size="8.90" text-anchor="middle" textLength="9.54" lengthAdjust="spacingAndGlyphs" fill="#000">F8</text></g>
<line x1="250.19" y1="318.50" x2="250.19" y2="320.00" stroke="#000" stroke-opacity="0.35" stroke-width="0.8"/>
<g transform="translate(250.19,327.11) rotate(-25.0)"><text x="0.00" y="2.13" font-size="8.90" text-anchor="middle" textLength="9.54" lengthAdjust="spacingAndGlyphs" fill="#000">F9</text></g>
<line x1="261.40" y1="318.50" x2="261.40" y2="320.00" stroke="#000" stroke-opacity="0.35" stroke-width="0.8"/>
<g transform="translate(261.40,328.17) rotate(-25.0)"><text x="0.00" y="2.13" font-size="8.90" text-anchor="middle" textLength="14.55" lengthAdjust="spacingAndGlyphs" fill="#000">F10</text></g>
<text x="211.00" y="232.50" font-size="8.90" text-anchor="middle" textLength="111.35" lengthAdjust="spacingAndGlyphs" fill="#000">Spearman&#39;s correlation 0.97</text>
<rect x="159.00" y="238.30" width="65.15" height="25.36" rx="1.97" fill="#fff" fill-opacity="0.8" stroke="#d0d0d0" stroke-width="0.8"/>
<rect x="161.84" y="241.84" width="15.91" height="5.51" fill="#1f77b4"/>
<text x="183.58" y="247.67" font-size="8.90" text-anchor="start" textLength="37.37" lengthAdjust="spacingAndGlyphs" fill="#000">predicted</text>
<rect x="161.84" y="253.27" width="15.91" height="5.51" fill="#ff7f0e"/>
<text x="183.58" y="259.10" font-size="8.90" text-anchor="start" textLength="16.17" lengthAdjust="spacingAndGlyphs" fill="#000">true</text>
<clipPath id="c22"><rect x="294.40" y="234.50" width="112.20" height="83.70"/></clipPath>
<g clip-path="url(#c22)">
<rect x="296.91" y="296.53" width="2.69" height="1.76" fill="#1f77b4"/>
<rect x="299.60" y="296.53" width="2.69" height="17.57" fill="#ff7f0e"/>
<rect x="308.12" y="294.77" width="2.69" height="1.76" fill="#1f77b4"/>
<rect x="310.81" y="296.53" width="2.69" height="17.57" fill="#ff7f0e"/>
<rect x="319.33" y="270.16" width="2.69" height="26.36" fill="#1f77b4"/>
<rect x="322.02" y="296.53" width="2.69" height="0.00" fill="#ff7f0e"/>
<rect x="330.54" y="289.50" width="2.69" height="7.03" fill="#1f77b4"/>
<rect x="333.23" y="296.53" width="2.69" height="17.57" fill="#ff7f0e"/>
<rect x="341.75" y="268.41" width="2.69" height="28.12" fill="#1f77b4"/>
<rect x="344.44" y="296.53" width="2.69" height="0.00" fill="#ff7f0e"/>
<rect x="352.96" y="296.53" width="2.69" height="0.88" fill="#1f77b4"/>
<rect x="355.66" y="296.53" width="2.69" height="17.57" fill="#ff7f0e"/>
<rect x="364.18" y="296.53" width="2.69" height="6.15" fill="#1f77b4"/>
<rect x="366.87" y="296.53" width="2.69" height="17.57" fill="#ff7f0e"/>
<rect x="375.39" y="295.65" width="2.69" height="0.88" fill="#1f77b4"/>
<rect x="378.08" y="296.53" width="2.69" height="17.57" fill="#ff7f0e"/>
<rect x="386.60" y="238.53" width="2.69" height="58.00" fill="#1f77b4"/>
<rect x="389.29" y="278.95" width="2.69" height="17.57" fill="#ff7f0e"/>
<rect x="397.81" y="248.19" width="2.69" height="48.33" fill="#1f77b4"/>
<rect x="400.50" y="278.95" width="2.69" height="17.57" fill="#ff7f0e"/>
<line x1="294.40" y1="296.53" x2="406.60" y2="296.53" stroke="#000" stroke-opacity="0.6" stroke-width="0.80" stroke-dasharray="1.6,0.9"/>
<polyline points="299.60,298.28 310.81,294.77 322.02,270.16 333.23,289.50 344.44,268.41 355.66,297.40 366.87,302.68 378.08,295.65 389.29,238.53 400.50,248.19" fill="none" stroke="#0000ff" stroke-opacity="0.95" stroke-width="0.65" stroke-linejoin="round"/>
<polyline points="299.60,314.10 310.81,314.10 322.02,296.53 333.23,314.10 344.44,296.53 355.66,314.10 366.87,314.10 378.08,314.10 389.29,278.95 400.50,278.95" fill="none" stroke="#ff0000" stroke-opacity="0.95" stroke-width="0.65" stroke-linejoin="round"/>
</g>
<rect x="294.50" y="234.50" width="112.00" height="84.00" fill="none" stroke="#000" stroke-opacity="0.26" stroke-width="1.25"/>
<line x1="293.00" y1="243.80" x2="294.50" y2="243.80" stroke="#000" stroke-opacity="0.35" stroke-width="0.8"/>
<text x="292.50" y="247.44" font-size="8.93" text-anchor="end" textLength="5.03" lengthAdjust="spacingAndGlyphs" fill="#000">3</text>
<line x1="293.00" y1="261.38" x2="294.50" y2="261.38" stroke="#000" stroke-opacity="0.35" stroke-width="0.8"/>
<text x="292.50" y="265.01" font-size="8.93" text-anchor="end" textLength="5.03" lengthAdjust="spacingAndGlyphs" fill="#000">2</text>
<line x1="293.00" y1="278.95" x2="294.50" y2="278.95" stroke="#000" stroke-opacity="0.35" stroke-width="0.8"/>
<text x="292.50" y="282.59" font-size="8.93" text-anchor="end" textLength="5.03" lengthAdjust="spacingAndGlyphs" fill="#000">1</text>
<line x1="293.00" y1="296.53" x2="294.50" y2="296.53" stroke="#000" stroke-opacity="0.35" stroke-width="0.8"/>
<text x="292.50" y="300.16" font-size="8.93" text-anchor="end" textLength="5.03" lengthAdjust="spacingAndGlyphs" fill="#000">0</text>
<line x1="293.00" y1="314.10" x2="294.50" y2="314.10" stroke="#000" stroke-opacity="0.35" stroke-width="0.8"/>
<text x="292.50" y="317.74" font-size="8.93" text-anchor="end" textLength="11.65" lengthAdjust="spacingAndGlyphs" fill="#000">−1</text>
<line x1="299.60" y1="318.50" x2="299.60" y2="320.00" stroke="#000" stroke-opacity="0.35" stroke-width="0.8"/>
<g transform="translate(299.60,327.13) rotate(-25.0)"><text x="0.00" y="2.13" font-size="8.93" text-anchor="middle" textLength="9.58" lengthAdjust="spacingAndGlyphs" fill="#000">F1</text></g>
<line x1="310.81" y1="318.50" x2="310.81" y2="320.00" stroke="#000" stroke-opacity="0.35" stroke-width="0.8"/>
<g transform="translate(310.81,327.13) rotate(-25.0)"><text x="0.00" y="2.13" font-size="8.93" text-anchor="middle" textLength="9.58" lengthAdjust="spacingAndGlyphs" fill="#000">F2</text></g>
<line x1="322.02" y1="318.50" x2="322.02" y2="320.00" stroke="#000" stroke-opacity="0.35" stroke-width="0.8"/>
<g transform="translate(322.02,327.13) rotate(-25.0)"><text x="0.00" y="2.13" font-size="8.93" text-anchor="middle" textLength="9.58" lengthAdjust="spacingAndGlyphs" fill="#000">F3</text></g>
<line x1="333.23" y1="318.50" x2="333.23" y2="320.00" stroke="#000" stroke-opacity="0.35" stroke-width="0.8"/>
<g transform="translate(333.23,327.13) rotate(-25.0)"><text x="0.00" y="2.13" font-size="8.93" text-anchor="middle" textLength="9.58" lengthAdjust="spacingAndGlyphs" fill="#000">F4</text></g>
<line x1="344.44" y1="318.50" x2="344.44" y2="320.00" stroke="#000" stroke-opacity="0.35" stroke-width="0.8"/>
<g transform="translate(344.44,327.13) rotate(-25.0)"><text x="0.00" y="2.13" font-size="8.93" text-anchor="middle" textLength="9.58" lengthAdjust="spacingAndGlyphs" fill="#000">F5</text></g>
<line x1="355.66" y1="318.50" x2="355.66" y2="320.00" stroke="#000" stroke-opacity="0.35" stroke-width="0.8"/>
<g transform="translate(355.66,327.13) rotate(-25.0)"><text x="0.00" y="2.13" font-size="8.93" text-anchor="middle" textLength="9.58" lengthAdjust="spacingAndGlyphs" fill="#000">F6</text></g>
<line x1="366.87" y1="318.50" x2="366.87" y2="320.00" stroke="#000" stroke-opacity="0.35" stroke-width="0.8"/>
<g transform="translate(366.87,327.13) rotate(-25.0)"><text x="0.00" y="2.13" font-size="8.93" text-anchor="middle" textLength="9.58" lengthAdjust="spacingAndGlyphs" fill="#000">F7</text></g>
<line x1="378.08" y1="318.50" x2="378.08" y2="320.00" stroke="#000" stroke-opacity="0.35" stroke-width="0.8"/>
<g transform="translate(378.08,327.13) rotate(-25.0)"><text x="0.00" y="2.13" font-size="8.93" text-anchor="middle" textLength="9.58" lengthAdjust="spacingAndGlyphs" fill="#000">F8</text></g>
<line x1="389.29" y1="318.50" x2="389.29" y2="320.00" stroke="#000" stroke-opacity="0.35" stroke-width="0.8"/>
<g transform="translate(389.29,327.13) rotate(-25.0)"><text x="0.00" y="2.13" font-size="8.93" text-anchor="middle" textLength="9.58" lengthAdjust="spacingAndGlyphs" fill="#000">F9</text></g>
<line x1="400.50" y1="318.50" x2="400.50" y2="320.00" stroke="#000" stroke-opacity="0.35" stroke-width="0.8"/>
<g transform="translate(400.50,328.19) rotate(-25.0)"><text x="0.00" y="2.13" font-size="8.93" text-anchor="middle" textLength="14.61" lengthAdjust="spacingAndGlyphs" fill="#000">F10</text></g>
<text x="350.00" y="232.50" font-size="8.93" text-anchor="middle" textLength="111.76" lengthAdjust="spacingAndGlyphs" fill="#000">Spearman&#39;s correlation 0.88</text>
<rect x="298.50" y="238.30" width="65.38" height="25.46" rx="1.98" fill="#fff" fill-opacity="0.8" stroke="#d0d0d0" stroke-width="0.8"/>
<rect x="301.35" y="241.86" width="15.97" height="5.53" fill="#1f77b4"/>
<text x="323.17" y="247.71" font-size="8.93" text-anchor="start" textLength="37.50" lengthAdjust="spacingAndGlyphs" fill="#000">predicted</text>
<rect x="301.35" y="253.32" width="15.97" height="5.53" fill="#ff7f0e"/>
<text x="323.17" y="259.17" font-size="8.93" text-anchor="start" textLength="16.22" lengthAdjust="spacingAndGlyphs" fill="#000">true</text>
<clipPath id="c23"><rect x="439.70" y="240.10" width="105.60" height="78.50"/></clipPath>
<g clip-path="url(#c23)">
<rect x="441.95" y="245.96" width="2.55" height="38.70" fill="#1f77b4"/>
<rect x="444.50" y="247.80" width="2.55" height="36.86" fill="#ff7f0e"/>
<rect x="452.59" y="280.97" width="2.55" height="3.69" fill="#1f77b4"/>
<rect x="455.14" y="284.66" width="2.55" height="0.00" fill="#ff7f0e"/>
<rect x="463.23" y="266.23" width="2.55" height="18.43" fill="#1f77b4"/>
<rect x="465.79" y="266.23" width="2.55" height="18.43" fill="#ff7f0e"/>
<rect x="473.88" y="265.31" width="2.55" height="19.35" fill="#1f77b4"/>
<rect x="476.43" y="266.23" width="2.55" height="18.43" fill="#ff7f0e"/>
<rect x="484.52" y="270.84" width="2.55" height="13.82" fill="#1f77b4"/>
<rect x="487.08" y="266.23" width="2.55" height="18.43" fill="#ff7f0e"/>
<rect x="495.17" y="284.66" width="2.55" height="30.41" fill="#1f77b4"/>
<rect x="497.72" y="284.66" width="2.55" height="18.43" fill="#ff7f0e"/>
<rect x="505.81" y="243.19" width="2.55" height="41.46" fill="#1f77b4"/>
<rect x="508.37" y="247.80" width="2.55" height="36.86" fill="#ff7f0e"/>
<rect x="516.46" y="267.15" width="2.55" height="17.51" fill="#1f77b4"/>
<rect x="519.01" y="266.23" width="2.55" height="18.43" fill="#ff7f0e"/>
<rect x="527.10" y="273.60" width="2.55" height="11.06" fill="#1f77b4"/>
<rect x="529.66" y="266.23" width="2.55" height="18.43" fill="#ff7f0e"/>
<rect x="537.75" y="260.70" width="2.55" height="23.96" fill="#1f77b4"/>
<rect x="540.30" y="266.23" width="2.55" height="18.43" fill="#ff7f0e"/>
<line x1="439.70" y1="284.66" x2="545.30" y2="284.66" stroke="#000" stroke-opacity="0.6" stroke-width="0.80" stroke-dasharray="1.6,0.9"/>
<polyline points="444.50,245.96 455.14,280.97 465.79,266.23 476.43,265.31 487.08,270.84 497.72,315.06 508.37,243.19 519.01,267.15 529.66,273.60 540.30,260.70" fill="none" stroke="#0000ff" stroke-opacity="0.95" stroke-width="0.65" stroke-linejoin="round"/>
<polyline points="444.50,247.80 455.14,284.66 465.79,266.23 476.43,266.23 487.08,266.23 497.72,303.09 508.37,247.80 519.01,266.23 529.66,266.23 540.30,266.23" fill="none" stroke="#ff0000" stroke-opacity="0.95" stroke-width="0.65" stroke-linejoin="round"/>
</g>
<rect x="439.50" y="240.50" width="106.00" height="78.00" fill="none" stroke="#000" stroke-opacity="0.26" stroke-width="1.25"/>
<line x1="438.00" y1="247.80" x2="439.50" y2="247.80" stroke="#000" stroke-opacity="0.35" stroke-width="0.8"/>
<text x="437.80" y="251.23" font-size="8.43" text-anchor="end" textLength="11.87" lengthAdjust="spacingAndGlyphs" fill="#000">2.0</text>
<line x1="438.00" y1="257.01" x2="439.50" y2="257.01" stroke="#000" stroke-opacity="0.35" stroke-width="0.8"/>
<text x="437.80" y="260.45" font-size="8.43" text-anchor="end" textLength="11.87" lengthAdjust="spacingAndGlyphs" fill="#000">1.5</text>
<line x1="438.00" y1="266.23" x2="439.50" y2="266.23" stroke="#000" stroke-opacity="0.35" stroke-width="0.8"/>
<text x="437.80" y="269.66" font-size="8.43" text-anchor="end" textLength="11.87" lengthAdjust="spacingAndGlyphs" fill="#000">1.0</text>
<line x1="438.00" y1="275.44" x2="439.50" y2="275.44" stroke="#000" stroke-opacity="0.35" stroke-width="0.8"/>
<text x="437.80" y="278.88" font-size="8.43" text-anchor="end" textLength="11.87" lengthAdjust="spacingAndGlyphs" fill="#000">0.5</text>
<line x1="438.00" y1="284.66" x2="439.50" y2="284.66" stroke="#000" stroke-opacity="0.35" stroke-width="0.8"/>
<text x="437.80" y="288.09" font-size="8.43" text-anchor="end" textLength="11.87" lengthAdjust="spacingAndGlyphs" fill="#000">0.0</text>
<line x1="438.00" y1="293.87" x2="439.50" y2="293.87" stroke="#000" stroke-opacity="0.35" stroke-width="0.8"/>
<text x="437.80" y="297.30" font-size="8.43" text-anchor="end" textLength="18.12" lengthAdjust="spacingAndGlyphs" fill="#000">−0.5</text>
<line x1="438.00" y1="303.09" x2="439.50" y2="303.09" stroke="#000" stroke-opacity="0.35" stroke-width="0.8"/>
<text x="437.80" y="306.52" font-size="8.43" text-anchor="end" textLength="18.12" lengthAdjust="spacingAndGlyphs" fill="#000">−1.0</text>
<line x1="438.00" y1="312.30" x2="439.50" y2="312.30" stroke="#000" stroke-opacity="0.35" stroke-width="0.8"/>
<text x="437.80" y="315.73" font-size="8.43" text-anchor="end" textLength="18.12" lengthAdjust="spacingAndGlyphs" fill="#000">−1.5</text>
<line x1="444.50" y1="318.50" x2="444.50" y2="320.00" stroke="#000" stroke-opacity="0.35" stroke-width="0.8"/>
<g transform="translate(444.50,327.22) rotate(-25.0)"><text x="0.00" y="2.02" font-size="8.43" text-anchor="middle" textLength="9.04" lengthAdjust="spacingAndGlyphs" fill="#000">F1</text></g>
<line x1="455.14" y1="318.50" x2="455.14" y2="320.00" stroke="#000" stroke-opacity="0.35" stroke-width="0.8"/>
<g transform="translate(455.14,327.22) rotate(-25.0)"><text x="0.00" y="2.02" font-size="8.43" text-anchor="middle" textLength="9.04" lengthAdjust="spacingAndGlyphs" fill="#000">F2</text></g>
<line x1="465.79" y1="318.50" x2="465.79" y2="320.00" stroke="#000" stroke-opacity="0.35" stroke-width="0.8"/>
<g transform="translate(465.79,327.22) rotate(-25.0)"><text x="0.00" y="2.02" font-size="8.43" text-anchor="middle" textLength="9.04" lengthAdjust="spacingAndGlyphs" fill="#000">F3</text></g>
<line x1="476.43" y1="318.50" x2="476.43" y2="320.00" stroke="#000" stroke-opacity="0.35" stroke-width="0.8"/>
<g transform="translate(476.43,327.22) rotate(-25.0)"><text x="0.00" y="2.02" font-size="8.43" text-anchor="middle" textLength="9.04" lengthAdjust="spacingAndGlyphs" fill="#000">F4</text></g>
<line x1="487.08" y1="318.50" x2="487.08" y2="320.00" stroke="#000" stroke-opacity="0.35" stroke-width="0.8"/>
<g transform="translate(487.08,327.22) rotate(-25.0)"><text x="0.00" y="2.02" font-size="8.43" text-anchor="middle" textLength="9.04" lengthAdjust="spacingAndGlyphs" fill="#000">F5</text></g>
<line x1="497.72" y1="318.50" x2="497.72" y2="320.00" stroke="#000" stroke-opacity="0.35" stroke-width="0.8"/>
<g transform="translate(497.72,327.22) rotate(-25.0)"><text x="0.00" y="2.02" font-size="8.43" text-anchor="middle" textLength="9.04" lengthAdjust="spacingAndGlyphs" fill="#000">F6</text></g>
<line x1="508.37" y1="318.50" x2="508.37" y2="320.00" stroke="#000" stroke-opacity="0.35" stroke-width="0.8"/>
<g transform="translate(508.37,327.22) rotate(-25.0)"><text x="0.00" y="2.02" font-size="8.43" text-anchor="middle" textLength="9.04" lengthAdjust="spacingAndGlyphs" fill="#000">F7</text></g>
<line x1="519.01" y1="318.50" x2="519.01" y2="320.00" stroke="#000" stroke-opacity="0.35" stroke-width="0.8"/>
<g transform="translate(519.01,327.22) rotate(-25.0)"><text x="0.00" y="2.02" font-size="8.43" text-anchor="middle" textLength="9.04" lengthAdjust="spacingAndGlyphs" fill="#000">F8</text></g>
<line x1="529.66" y1="318.50" x2="529.66" y2="320.00" stroke="#000" stroke-opacity="0.35" stroke-width="0.8"/>
<g transform="translate(529.66,327.22) rotate(-25.0)"><text x="0.00" y="2.02" font-size="8.43" text-anchor="middle" textLength="9.04" lengthAdjust="spacingAndGlyphs" fill="#000">F9</text></g>
<line x1="540.30" y1="318.50" x2="540.30" y2="320.00" stroke="#000" stroke-opacity="0.35" stroke-width="0.8"/>
<g transform="translate(540.30,328.23) rotate(-25.0)"><text x="0.00" y="2.02" font-size="8.43" text-anchor="middle" textLength="13.79" lengthAdjust="spacingAndGlyphs" fill="#000">F10</text></g>
<text x="492.20" y="238.10" font-size="8.43" text-anchor="middle" textLength="105.50" lengthAdjust="spacingAndGlyphs" fill="#000">Spearman&#39;s correlation 0.88</text>
<rect x="443.40" y="291.00" width="61.72" height="24.03" rx="1.87" fill="#fff" fill-opacity="0.8" stroke="#d0d0d0" stroke-width="0.8"/>
<rect x="446.09" y="294.36" width="15.08" height="5.22" fill="#1f77b4"/>
<text x="466.69" y="299.88" font-size="8.43" text-anchor="start" textLength="35.40" lengthAdjust="spacingAndGlyphs" fill="#000">predicted</text>
<rect x="446.09" y="305.18" width="15.08" height="5.22" fill="#ff7f0e"/>
<text x="466.69" y="310.70" font-size="8.43" text-anchor="start" textLength="15.32" lengthAdjust="spacingAndGlyphs" fill="#000">true</text>
<clipPath id="c24"><rect x="572.40" y="234.50" width="111.80" height="83.50"/></clipPath>
<g clip-path="url(#c24)">
<rect x="575.12" y="276.92" width="2.68" height="5.54" fill="#1f77b4"/>
<rect x="577.80" y="282.46" width="2.68" height="15.82" fill="#ff7f0e"/>
<rect x="586.30" y="279.30" width="2.68" height="3.16" fill="#1f77b4"/>
<rect x="588.98" y="282.46" width="2.68" height="15.82" fill="#ff7f0e"/>
<rect x="597.47" y="266.64" width="2.68" height="15.82" fill="#1f77b4"/>
<rect x="600.16" y="282.46" width="2.68" height="0.00" fill="#ff7f0e"/>
<rect x="608.65" y="280.88" width="2.68" height="1.58" fill="#1f77b4"/>
<rect x="611.33" y="282.46" width="2.68" height="31.64" fill="#ff7f0e"/>
<rect x="619.83" y="246.07" width="2.68" height="36.39" fill="#1f77b4"/>
<rect x="622.51" y="266.64" width="2.68" height="15.82" fill="#ff7f0e"/>
<rect x="631.01" y="282.46" width="2.68" height="6.33" fill="#1f77b4"/>
<rect x="633.69" y="282.46" width="2.68" height="31.64" fill="#ff7f0e"/>
<rect x="642.18" y="238.16" width="2.68" height="44.30" fill="#1f77b4"/>
<rect x="644.87" y="250.82" width="2.68" height="31.64" fill="#ff7f0e"/>
<rect x="653.36" y="276.13" width="2.68" height="6.33" fill="#1f77b4"/>
<rect x="656.04" y="282.46" width="2.68" height="15.82" fill="#ff7f0e"/>
<rect x="664.54" y="248.45" width="2.68" height="34.01" fill="#1f77b4"/>
<rect x="667.22" y="266.64" width="2.68" height="15.82" fill="#ff7f0e"/>
<rect x="675.72" y="277.71" width="2.68" height="4.75" fill="#1f77b4"/>
<rect x="678.40" y="282.46" width="2.68" height="15.82" fill="#ff7f0e"/>
<line x1="572.40" y1="282.46" x2="684.20" y2="282.46" stroke="#000" stroke-opacity="0.6" stroke-width="0.80" stroke-dasharray="1.6,0.9"/>
<polyline points="577.80,276.92 588.98,279.30 600.16,266.64 611.33,280.88 622.51,246.07 633.69,288.79 644.87,238.16 656.04,276.13 667.22,248.45 678.40,277.71" fill="none" stroke="#0000ff" stroke-opacity="0.95" stroke-width="0.65" stroke-linejoin="round"/>
<polyline points="577.80,298.28 588.98,298.28 600.16,282.46 611.33,314.10 622.51,266.64 633.69,314.10 644.87,250.82 656.04,298.28 667.22,266.64 678.40,298.28" fill="none" stroke="#ff0000" stroke-opacity="0.95" stroke-width="0.65" stroke-linejoin="round"/>
</g>
<rect x="572.50" y="234.50" width="112.00" height="84.00" fill="none" stroke="#000" stroke-opacity="0.26" stroke-width="1.25"/>
<line x1="571.00" y1="235.00" x2="572.50" y2="235.00" stroke="#000" stroke-opacity="0.35" stroke-width="0.8"/>
<text x="570.50" y="238.64" font-size="8.95" text-anchor="end" textLength="5.04" lengthAdjust="spacingAndGlyphs" fill="#000">3</text>
<line x1="571.00" y1="250.82" x2="572.50" y2="250.82" stroke="#000" stroke-opacity="0.35" stroke-width="0.8"/>
<text x="570.50" y="254.46" font-size="8.95" text-anchor="end" textLength="5.04" lengthAdjust="spacingAndGlyphs" fill="#000">2</text>
<line x1="571.00" y1="266.64" x2="572.50" y2="266.64" stroke="#000" stroke-opacity="0.35" stroke-width="0.8"/>
<text x="570.50" y="270.28" font-size="8.95" text-anchor="end" textLength="5.04" lengthAdjust="spacingAndGlyphs" fill="#000">1</text>
<line x1="571.00" y1="282.46" x2="572.50" y2="282.46" stroke="#000" stroke-opacity="0.35" stroke-width="0.8"/>
<text x="570.50" y="286.10" font-size="8.95" text-anchor="end" textLength="5.04" lengthAdjust="spacingAndGlyphs" fill="#000">0</text>
<line x1="571.00" y1="298.28" x2="572.50" y2="298.28" stroke="#000" stroke-opacity="0.35" stroke-width="0.8"/>
<text x="570.50" y="301.92" font-size="8.95" text-anchor="end" textLength="11.68" lengthAdjust="spacingAndGlyphs" fill="#000">−1</text>
<line x1="571.00" y1="314.10" x2="572.50" y2="314.10" stroke="#000" stroke-opacity="0.35" stroke-width="0.8"/>
<text x="570.50" y="317.74" font-size="8.95" text-anchor="end" textLength="11.68" lengthAdjust="spacingAndGlyphs" fill="#000">−2</text>
<line x1="577.80" y1="318.50" x2="577.80" y2="320.00" stroke="#000" stroke-opacity="0.35" stroke-width="0.8"/>
<g transform="translate(577.80,326.94) rotate(-25.0)"><text x="0.00" y="2.14" font-size="8.95" text-anchor="middle" textLength="9.59" lengthAdjust="spacingAndGlyphs" fill="#000">F1</text></g>
<line x1="588.98" y1="318.50" x2="588.98" y2="320.00" stroke="#000" stroke-opacity="0.35" stroke-width="0.8"/>
<g transform="translate(588.98,326.94) rotate(-25.0)"><text x="0.00" y="2.14" font-size="8.95" text-anchor="middle" textLength="9.59" lengthAdjust="spacingAndGlyphs" fill="#000">F2</text></g>
<line x1="600.16" y1="318.50" x2="600.16" y2="320.00" stroke="#000" stroke-opacity="0.35" stroke-width="0.8"/>
<g transform="translate(600.16,326.94) rotate(-25.0)"><text x="0.00" y="2.14" font-size="8.95" text-anchor="middle" textLength="9.59" lengthAdjust="spacingAndGlyphs" fill="#000">F3</text></g>
<line x1="611.33" y1="318.50" x2="611.33" y2="320.00" stroke="#000" stroke-opacity="0.35" stroke-width="0.8"/>
<g transform="translate(611.33,326.94) rotate(-25.0)"><text x="0.00" y="2.14" font-size="8.95" text-anchor="middle" textLength="9.59" lengthAdjust="spacingAndGlyphs" fill="#000">F4</text></g>
<line x1="622.51" y1="318.50" x2="622.51" y2="320.00" stroke="#000" stroke-opacity="0.35" stroke-width="0.8"/>
<g transform="translate(622.51,326.94) rotate(-25.0)"><text x="0.00" y="2.14" font-size="8.95" text-anchor="middle" textLength="9.59" lengthAdjust="spacingAndGlyphs" fill="#000">F5</text></g>
<line x1="633.69" y1="318.50" x2="633.69" y2="320.00" stroke="#000" stroke-opacity="0.35" stroke-width="0.8"/>
<g transform="translate(633.69,326.94) rotate(-25.0)"><text x="0.00" y="2.14" font-size="8.95" text-anchor="middle" textLength="9.59" lengthAdjust="spacingAndGlyphs" fill="#000">F6</text></g>
<line x1="644.87" y1="318.50" x2="644.87" y2="320.00" stroke="#000" stroke-opacity="0.35" stroke-width="0.8"/>
<g transform="translate(644.87,326.94) rotate(-25.0)"><text x="0.00" y="2.14" font-size="8.95" text-anchor="middle" textLength="9.59" lengthAdjust="spacingAndGlyphs" fill="#000">F7</text></g>
<line x1="656.04" y1="318.50" x2="656.04" y2="320.00" stroke="#000" stroke-opacity="0.35" stroke-width="0.8"/>
<g transform="translate(656.04,326.94) rotate(-25.0)"><text x="0.00" y="2.14" font-size="8.95" text-anchor="middle" textLength="9.59" lengthAdjust="spacingAndGlyphs" fill="#000">F8</text></g>
<line x1="667.22" y1="318.50" x2="667.22" y2="320.00" stroke="#000" stroke-opacity="0.35" stroke-width="0.8"/>
<g transform="translate(667.22,326.94) rotate(-25.0)"><text x="0.00" y="2.14" font-size="8.95" text-anchor="middle" textLength="9.59" lengthAdjust="spacingAndGlyphs" fill="#000">F9</text></g>
<line x1="678.40" y1="318.50" x2="678.40" y2="320.00" stroke="#000" stroke-opacity="0.35" stroke-width="0.8"/>
<g transform="translate(678.40,328.00) rotate(-25.0)"><text x="0.00" y="2.14" font-size="8.95" text-anchor="middle" textLength="14.63" lengthAdjust="spacingAndGlyphs" fill="#000">F10</text></g>
<text x="628.10" y="232.50" font-size="8.95" text-anchor="middle" textLength="111.96" lengthAdjust="spacingAndGlyphs" fill="#000">Spearman&#39;s correlation 0.96</text>
<rect x="576.20" y="238.60" width="65.50" height="25.50" rx="1.98" fill="#fff" fill-opacity="0.8" stroke="#d0d0d0" stroke-width="0.8"/>
<rect x="579.05" y="242.16" width="16.00" height="5.54" fill="#1f77b4"/>
<text x="600.91" y="248.02" font-size="8.95" text-anchor="start" textLength="37.57" lengthAdjust="spacingAndGlyphs" fill="#000">predicted</text>
<rect x="579.05" y="253.65" width="16.00" height="5.54" fill="#ff7f0e"/>
<text x="600.91" y="259.51" font-size="8.95" text-anchor="start" textLength="16.25" lengthAdjust="spacingAndGlyphs" fill="#000">true</text>
<clipPath id="c30"><rect x="13.10" y="348.20" width="111.80" height="83.00"/></clipPath>
<g clip-path="url(#c30)">
<rect x="15.81" y="364.21" width="2.69" height="37.66" fill="#1f77b4"/>
<rect x="18.50" y="389.10" width="2.69" height="12.77" fill="#ff7f0e"/>
<rect x="27.03" y="352.08" width="2.69" height="49.79" fill="#1f77b4"/>
<rect x="29.72" y="376.33" width="2.69" height="25.53" fill="#ff7f0e"/>
<rect x="38.25" y="401.87" width="2.69" height="1.28" fill="#1f77b4"/>
<rect x="40.94" y="401.87" width="2.69" height="25.53" fill="#ff7f0e"/>
<rect x="49.47" y="400.59" width="2.69" height="1.28" fill="#1f77b4"/>
<rect x="52.17" y="401.87" width="2.69" height="25.53" fill="#ff7f0e"/>
<rect x="60.70" y="396.12" width="2.69" height="5.75" fill="#1f77b4"/>
<rect x="63.39" y="401.87" width="2.69" height="25.53" fill="#ff7f0e"/>
<rect x="71.92" y="401.87" width="2.69" height="3.83" fill="#1f77b4"/>
<rect x="74.61" y="401.87" width="2.69" height="25.53" fill="#ff7f0e"/>
<rect x="83.14" y="391.01" width="2.69" height="10.85" fill="#1f77b4"/>
<rect x="85.83" y="401.87" width="2.69" height="12.77" fill="#ff7f0e"/>
<rect x="94.36" y="401.87" width="2.69" height="1.28" fill="#1f77b4"/>
<rect x="97.06" y="401.87" width="2.69" height="25.53" fill="#ff7f0e"/>
<rect x="105.58" y="398.04" width="2.69" height="3.83" fill="#1f77b4"/>
<rect x="108.28" y="401.87" width="2.69" height="12.77" fill="#ff7f0e"/>
<rect x="116.81" y="373.78" width="2.69" height="28.09" fill="#1f77b4"/>
<rect x="119.50" y="401.87" width="2.69" height="0.00" fill="#ff7f0e"/>
<line x1="13.10" y1="401.87" x2="124.90" y2="401.87" stroke="#000" stroke-opacity="0.6" stroke-width="0.80" stroke-dasharray="1.6,0.9"/>
<polyline points="18.50,364.21 29.72,352.08 40.94,403.14 52.17,400.59 63.39,396.12 74.61,405.70 85.83,391.01 97.06,403.14 108.28,398.04 119.50,373.78" fill="none" stroke="#0000ff" stroke-opacity="0.95" stroke-width="0.65" stroke-linejoin="round"/>
<polyline points="18.50,389.10 29.72,376.33 40.94,427.40 52.17,427.40 63.39,427.40 74.61,427.40 85.83,414.63 97.06,427.40 108.28,414.63 119.50,401.87" fill="none" stroke="#ff0000" stroke-opacity="0.95" stroke-width="0.65" stroke-linejoin="round"/>
</g>
<rect x="13.50" y="348.50" width="111.00" height="83.00" fill="none" stroke="#000" stroke-opacity="0.26" stroke-width="1.25"/>
<line x1="12.00" y1="350.80" x2="13.50" y2="350.80" stroke="#000" stroke-opacity="0.35" stroke-width="0.8"/>
<text x="11.20" y="354.43" font-size="8.92" text-anchor="end" textLength="5.02" lengthAdjust="spacingAndGlyphs" fill="#000">4</text>
<line x1="12.00" y1="363.57" x2="13.50" y2="363.57" stroke="#000" stroke-opacity="0.35" stroke-width="0.8"/>
<text x="11.20" y="367.20" font-size="8.92" text-anchor="end" textLength="5.02" lengthAdjust="spacingAndGlyphs" fill="#000">3</text>
<line x1="12.00" y1="376.33" x2="13.50" y2="376.33" stroke="#000" stroke-opacity="0.35" stroke-width="0.8"/>
<text x="11.20" y="379.96" font-size="8.92" text-anchor="end" textLength="5.02" lengthAdjust="spacingAndGlyphs" fill="#000">2</text>
<line x1="12.00" y1="389.10" x2="13.50" y2="389.10" stroke="#000" stroke-opacity="0.35" stroke-width="0.8"/>
<text x="11.20" y="392.73" font-size="8.92" text-anchor="end" textLength="5.02" lengthAdjust="spacingAndGlyphs" fill="#000">1</text>
<line x1="12.00" y1="401.87" x2="13.50" y2="401.87" stroke="#000" stroke-opacity="0.35" stroke-width="0.8"/>
<text x="11.20" y="405.50" font-size="8.92" text-anchor="end" textLength="5.02" lengthAdjust="spacingAndGlyphs" fill="#000">0</text>
<line x1="12.00" y1="414.63" x2="13.50" y2="414.63" stroke="#000" stroke-opacity="0.35" stroke-width="0.8"/>
<text x="11.20" y="418.26" font-size="8.92" text-anchor="end" textLength="11.63" lengthAdjust="spacingAndGlyphs" fill="#000">−1</text>
<line x1="12.00" y1="427.40" x2="13.50" y2="427.40" stroke="#000" stroke-opacity="0.35" stroke-width="0.8"/>
<text x="11.20" y="431.03" font-size="8.92" text-anchor="end" textLength="11.63" lengthAdjust="spacingAndGlyphs" fill="#000">−2</text>
<line x1="18.50" y1="431.50" x2="18.50" y2="433.00" stroke="#000" stroke-opacity="0.35" stroke-width="0.8"/>
<g transform="translate(18.50,440.12) rotate(-25.0)"><text x="0.00" y="2.13" font-size="8.92" text-anchor="middle" textLength="9.56" lengthAdjust="spacingAndGlyphs" fill="#000">F1</text></g>
<line x1="29.72" y1="431.50" x2="29.72" y2="433.00" stroke="#000" stroke-opacity="0.35" stroke-width="0.8"/>
<g transform="translate(29.72,440.12) rotate(-25.0)"><text x="0.00" y="2.13" font-size="8.92" text-anchor="middle" textLength="9.56" lengthAdjust="spacingAndGlyphs" fill="#000">F2</text></g>
<line x1="40.94" y1="431.50" x2="40.94" y2="433.00" stroke="#000" stroke-opacity="0.35" stroke-width="0.8"/>
<g transform="translate(40.94,440.12) rotate(-25.0)"><text x="0.00" y="2.13" font-size="8.92" text-anchor="middle" textLength="9.56" lengthAdjust="spacingAndGlyphs" fill="#000">F3</text></g>
<line x1="52.17" y1="431.50" x2="52.17" y2="433.00" stroke="#000" stroke-opacity="0.35" stroke-width="0.8"/>
<g transform="translate(52.17,440.12) rotate(-25.0)"><text x="0.00" y="2.13" font-size="8.92" text-anchor="middle" textLength="9.56" lengthAdjust="spacingAndGlyphs" fill="#000">F4</text></g>
<line x1="63.39" y1="431.50" x2="63.39" y2="433.00" stroke="#000" stroke-opacity="0.35" stroke-width="0.8"/>
<g transform="translate(63.39,440.12) rotate(-25.0)"><text x="0.00" y="2.13" font-size="8.92" text-anchor="middle" textLength="9.56" lengthAdjust="spacingAndGlyphs" fill="#000">F5</text></g>
<line x1="74.61" y1="431.50" x2="74.61" y2="433.00" stroke="#000" stroke-opacity="0.35" stroke-width="0.8"/>
<g transform="translate(74.61,440.12) rotate(-25.0)"><text x="0.00" y="2.13" font-size="8.92" text-anchor="middle" textLength="9.56" lengthAdjust="spacingAndGlyphs" fill="#000">F6</text></g>
<line x1="85.83" y1="431.50" x2="85.83" y2="433.00" stroke="#000" stroke-opacity="0.35" stroke-width="0.8"/>
<g transform="translate(85.83,440.12) rotate(-25.0)"><text x="0.00" y="2.13" font-size="8.92" text-anchor="middle" textLength="9.56" lengthAdjust="spacingAndGlyphs" fill="#000">F7</text></g>
<line x1="97.06" y1="431.50" x2="97.06" y2="433.00" stroke="#000" stroke-opacity="0.35" stroke-width="0.8"/>
<g transform="translate(97.06,440.12) rotate(-25.0)"><text x="0.00" y="2.13" font-size="8.92" text-anchor="middle" textLength="9.56" lengthAdjust="spacingAndGlyphs" fill="#000">F8</text></g>
<line x1="108.28" y1="431.50" x2="108.28" y2="433.00" stroke="#000" stroke-opacity="0.35" stroke-width="0.8"/>
<g transform="translate(108.28,440.12) rotate(-25.0)"><text x="0.00" y="2.13" font-size="8.92" text-anchor="middle" textLength="9.56" lengthAdjust="spacingAndGlyphs" fill="#000">F9</text></g>
<line x1="119.50" y1="431.50" x2="119.50" y2="433.00" stroke="#000" stroke-opacity="0.35" stroke-width="0.8"/>
<g transform="translate(119.50,441.18) rotate(-25.0)"><text x="0.00" y="2.13" font-size="8.92" text-anchor="middle" textLength="14.58" lengthAdjust="spacingAndGlyphs" fill="#000">F10</text></g>
<text x="68.70" y="346.20" font-size="8.92" text-anchor="middle" textLength="111.55" lengthAdjust="spacingAndGlyphs" fill="#000">Spearman&#39;s correlation 0.89</text>
<rect x="36.30" y="352.10" width="65.26" height="25.41" rx="1.97" fill="#fff" fill-opacity="0.8" stroke="#d0d0d0" stroke-width="0.8"/>
<rect x="39.14" y="355.65" width="15.94" height="5.52" fill="#1f77b4"/>
<text x="60.92" y="361.49" font-size="8.92" text-anchor="start" textLength="37.43" lengthAdjust="spacingAndGlyphs" fill="#000">predicted</text>
<rect x="39.14" y="367.09" width="15.94" height="5.52" fill="#ff7f0e"/>
<text x="60.92" y="372.93" font-size="8.92" text-anchor="start" textLength="16.20" lengthAdjust="spacingAndGlyphs" fill="#000">true</text>
<clipPath id="c31"><rect x="152.20" y="348.20" width="111.80" height="83.10"/></clipPath>
<g clip-path="url(#c31)">
<rect x="154.81" y="396.76" width="2.69" height="12.62" fill="#1f77b4"/>
<rect x="157.50" y="409.38" width="2.69" height="0.00" fill="#ff7f0e"/>
<rect x="166.02" y="354.40" width="2.69" height="54.98" fill="#1f77b4"/>
<rect x="168.71" y="391.35" width="2.69" height="18.02" fill="#ff7f0e"/>
<rect x="177.23" y="355.30" width="2.69" height="54.07" fill="#1f77b4"/>
<rect x="179.92" y="391.35" width="2.69" height="18.02" fill="#ff7f0e"/>
<rect x="188.44" y="389.55" width="2.69" height="19.83" fill="#1f77b4"/>
<rect x="191.13" y="409.38" width="2.69" height="0.00" fill="#ff7f0e"/>
<rect x="199.65" y="405.77" width="2.69" height="3.61" fill="#1f77b4"/>
<rect x="202.34" y="409.38" width="2.69" height="18.02" fill="#ff7f0e"/>
<rect x="210.86" y="409.38" width="2.69" height="9.91" fill="#1f77b4"/>
<rect x="213.56" y="409.38" width="2.69" height="18.02" fill="#ff7f0e"/>
<rect x="222.08" y="409.38" width="2.69" height="9.91" fill="#1f77b4"/>
<rect x="224.77" y="409.38" width="2.69" height="18.02" fill="#ff7f0e"/>
<rect x="233.29" y="350.79" width="2.69" height="58.58" fill="#1f77b4"/>
<rect x="235.98" y="391.35" width="2.69" height="18.02" fill="#ff7f0e"/>
<rect x="244.50" y="360.71" width="2.69" height="48.67" fill="#1f77b4"/>
<rect x="247.19" y="391.35" width="2.69" height="18.02" fill="#ff7f0e"/>
<rect x="255.71" y="361.61" width="2.69" height="47.77" fill="#1f77b4"/>
<rect x="258.40" y="391.35" width="2.69" height="18.02" fill="#ff7f0e"/>
<line x1="152.20" y1="409.38" x2="264.00" y2="409.38" stroke="#000" stroke-opacity="0.6" stroke-width="0.80" stroke-dasharray="1.6,0.9"/>
<polyline points="157.50,396.76 168.71,354.40 179.92,355.30 191.13,389.55 202.34,405.77 213.56,419.29 224.77,419.29 235.98,350.79 247.19,360.71 258.40,361.61" fill="none" stroke="#0000ff" stroke-opacity="0.95" stroke-width="0.65" stroke-linejoin="round"/>
<polyline points="157.50,409.38 168.71,391.35 179.92,391.35 191.13,409.38 202.34,427.40 213.56,427.40 224.77,427.40 235.98,391.35 247.19,391.35 258.40,391.35" fill="none" stroke="#ff0000" stroke-opacity="0.95" stroke-width="0.65" stroke-linejoin="round"/>
</g>
<rect x="152.50" y="348.50" width="112.00" height="83.00" fill="none" stroke="#000" stroke-opacity="0.26" stroke-width="1.25"/>
<line x1="151.00" y1="355.30" x2="152.50" y2="355.30" stroke="#000" stroke-opacity="0.35" stroke-width="0.8"/>
<text x="150.30" y="358.92" font-size="8.90" text-anchor="end" textLength="5.01" lengthAdjust="spacingAndGlyphs" fill="#000">3</text>
<line x1="151.00" y1="373.33" x2="152.50" y2="373.33" stroke="#000" stroke-opacity="0.35" stroke-width="0.8"/>
<text x="150.30" y="376.95" font-size="8.90" text-anchor="end" textLength="5.01" lengthAdjust="spacingAndGlyphs" fill="#000">2</text>
<line x1="151.00" y1="391.35" x2="152.50" y2="391.35" stroke="#000" stroke-opacity="0.35" stroke-width="0.8"/>
<text x="150.30" y="394.97" font-size="8.90" text-anchor="end" textLength="5.01" lengthAdjust="spacingAndGlyphs" fill="#000">1</text>
<line x1="151.00" y1="409.38" x2="152.50" y2="409.38" stroke="#000" stroke-opacity="0.35" stroke-width="0.8"/>
<text x="150.30" y="413.00" font-size="8.90" text-anchor="end" textLength="5.01" lengthAdjust="spacingAndGlyphs" fill="#000">0</text>
<line x1="151.00" y1="427.40" x2="152.50" y2="427.40" stroke="#000" stroke-opacity="0.35" stroke-width="0.8"/>
<text x="150.30" y="431.02" font-size="8.90" text-anchor="end" textLength="11.61" lengthAdjust="spacingAndGlyphs" fill="#000">−1</text>
<line x1="157.50" y1="431.50" x2="157.50" y2="433.00" stroke="#000" stroke-opacity="0.35" stroke-width="0.8"/>
<g transform="translate(157.50,440.21) rotate(-25.0)"><text x="0.00" y="2.13" font-size="8.90" text-anchor="middle" textLength="9.54" lengthAdjust="spacingAndGlyphs" fill="#000">F1</text></g>
<line x1="168.71" y1="431.50" x2="168.71" y2="433.00" stroke="#000" stroke-opacity="0.35" stroke-width="0.8"/>
<g transform="translate(168.71,440.21) rotate(-25.0)"><text x="0.00" y="2.13" font-size="8.90" text-anchor="middle" textLength="9.54" lengthAdjust="spacingAndGlyphs" fill="#000">F2</text></g>
<line x1="179.92" y1="431.50" x2="179.92" y2="433.00" stroke="#000" stroke-opacity="0.35" stroke-width="0.8"/>
<g transform="translate(179.92,440.21) rotate(-25.0)"><text x="0.00" y="2.13" font-size="8.90" text-anchor="middle" textLength="9.54" lengthAdjust="spacingAndGlyphs" fill="#000">F3</text></g>
<line x1="191.13" y1="431.50" x2="191.13" y2="433.00" stroke="#000" stroke-opacity="0.35" stroke-width="0.8"/>
<g transform="translate(191.13,440.21) rotate(-25.0)"><text x="0.00" y="2.13" font-size="8.90" text-anchor="middle" textLength="9.54" lengthAdjust="spacingAndGlyphs" fill="#000">F4</text></g>
<line x1="202.34" y1="431.50" x2="202.34" y2="433.00" stroke="#000" stroke-opacity="0.35" stroke-width="0.8"/>
<g transform="translate(202.34,440.21) rotate(-25.0)"><text x="0.00" y="2.13" font-size="8.90" text-anchor="middle" textLength="9.54" lengthAdjust="spacingAndGlyphs" fill="#000">F5</text></g>
<line x1="213.56" y1="431.50" x2="213.56" y2="433.00" stroke="#000" stroke-opacity="0.35" stroke-width="0.8"/>
<g transform="translate(213.56,440.21) rotate(-25.0)"><text x="0.00" y="2.13" font-size="8.90" text-anchor="middle" textLength="9.54" lengthAdjust="spacingAndGlyphs" fill="#000">F6</text></g>
<line x1="224.77" y1="431.50" x2="224.77" y2="433.00" stroke="#000" stroke-opacity="0.35" stroke-width="0.8"/>
<g transform="translate(224.77,440.21) rotate(-25.0)"><text x="0.00" y="2.13" font-size="8.90" text-anchor="middle" textLength="9.54" lengthAdjust="spacingAndGlyphs" fill="#000">F7</text></g>
<line x1="235.98" y1="431.50" x2="235.98" y2="433.00" stroke="#000" stroke-opacity="0.35" stroke-width="0.8"/>
<g transform="translate(235.98,440.21) rotate(-25.0)"><text x="0.00" y="2.13" font-size="8.90" text-anchor="middle" textLength="9.54" lengthAdjust="spacingAndGlyphs" fill="#000">F8</text></g>
<line x1="247.19" y1="431.50" x2="247.19" y2="433.00" stroke="#000" stroke-opacity="0.35" stroke-width="0.8"/>
<g transform="translate(247.19,440.21) rotate(-25.0)"><text x="0.00" y="2.13" font-size="8.90" text-anchor="middle" textLength="9.54" lengthAdjust="spacingAndGlyphs" fill="#000">F9</text></g>
<line x1="258.40" y1="431.50" x2="258.40" y2="433.00" stroke="#000" stroke-opacity="0.35" stroke-width="0.8"/>
<g transform="translate(258.40,441.27) rotate(-25.0)"><text x="0.00" y="2.13" font-size="8.90" text-anchor="middle" textLength="14.55" lengthAdjust="spacingAndGlyphs" fill="#000">F10</text></g>
<text x="207.80" y="346.20" font-size="8.90" text-anchor="middle" textLength="111.35" lengthAdjust="spacingAndGlyphs" fill="#000">Spearman&#39;s correlation 0.92</text>
<rect x="175.30" y="352.10" width="65.15" height="25.36" rx="1.97" fill="#fff" fill-opacity="0.8" stroke="#d0d0d0" stroke-width="0.8"/>
<rect x="178.14" y="355.64" width="15.91" height="5.51" fill="#1f77b4"/>
<text x="199.88" y="361.47" font-size="8.90" text-anchor="start" textLength="37.37" lengthAdjust="spacingAndGlyphs" fill="#000">predicted</text>
<rect x="178.14" y="367.07" width="15.91" height="5.51" fill="#ff7f0e"/>
<text x="199.88" y="372.90" font-size="8.90" text-anchor="start" textLength="16.17" lengthAdjust="spacingAndGlyphs" fill="#000">true</text>
<clipPath id="c32"><rect x="291.30" y="348.20" width="111.70" height="83.20"/></clipPath>
<g clip-path="url(#c32)">
<rect x="293.71" y="395.40" width="2.69" height="9.60" fill="#1f77b4"/>
<rect x="296.40" y="395.40" width="2.69" height="16.00" fill="#ff7f0e"/>
<rect x="304.93" y="372.20" width="2.69" height="23.20" fill="#1f77b4"/>
<rect x="307.62" y="379.40" width="2.69" height="16.00" fill="#ff7f0e"/>
<rect x="316.15" y="395.40" width="2.69" height="16.00" fill="#1f77b4"/>
<rect x="318.84" y="395.40" width="2.69" height="16.00" fill="#ff7f0e"/>
<rect x="327.37" y="393.80" width="2.69" height="1.60" fill="#1f77b4"/>
<rect x="330.07" y="395.40" width="2.69" height="16.00" fill="#ff7f0e"/>
<rect x="338.60" y="372.20" width="2.69" height="23.20" fill="#1f77b4"/>
<rect x="341.29" y="379.40" width="2.69" height="16.00" fill="#ff7f0e"/>
<rect x="349.82" y="370.60" width="2.69" height="24.80" fill="#1f77b4"/>
<rect x="352.51" y="379.40" width="2.69" height="16.00" fill="#ff7f0e"/>
<rect x="361.04" y="352.20" width="2.69" height="43.20" fill="#1f77b4"/>
<rect x="363.73" y="363.40" width="2.69" height="32.00" fill="#ff7f0e"/>
<rect x="372.26" y="395.40" width="2.69" height="32.00" fill="#1f77b4"/>
<rect x="374.96" y="395.40" width="2.69" height="32.00" fill="#ff7f0e"/>
<rect x="383.48" y="371.40" width="2.69" height="24.00" fill="#1f77b4"/>
<rect x="386.18" y="379.40" width="2.69" height="16.00" fill="#ff7f0e"/>
<rect x="394.71" y="395.40" width="2.69" height="12.80" fill="#1f77b4"/>
<rect x="397.40" y="395.40" width="2.69" height="16.00" fill="#ff7f0e"/>
<line x1="291.30" y1="395.40" x2="403.00" y2="395.40" stroke="#000" stroke-opacity="0.6" stroke-width="0.80" stroke-dasharray="1.6,0.9"/>
<polyline points="296.40,405.00 307.62,372.20 318.84,411.40 330.07,393.80 341.29,372.20 352.51,370.60 363.73,352.20 374.96,427.40 386.18,371.40 397.40,408.20" fill="none" stroke="#0000ff" stroke-opacity="0.95" stroke-width="0.65" stroke-linejoin="round"/>
<polyline points="296.40,411.40 307.62,379.40 318.84,411.40 330.07,411.40 341.29,379.40 352.51,379.40 363.73,363.40 374.96,427.40 386.18,379.40 397.40,411.40" fill="none" stroke="#ff0000" stroke-opacity="0.95" stroke-width="0.65" stroke-linejoin="round"/>
</g>
<rect x="291.50" y="348.50" width="112.00" height="83.00" fill="none" stroke="#000" stroke-opacity="0.26" stroke-width="1.25"/>
<line x1="290.00" y1="363.40" x2="291.50" y2="363.40" stroke="#000" stroke-opacity="0.35" stroke-width="0.8"/>
<text x="289.40" y="367.01" font-size="8.87" text-anchor="end" textLength="4.99" lengthAdjust="spacingAndGlyphs" fill="#000">2</text>
<line x1="290.00" y1="379.40" x2="291.50" y2="379.40" stroke="#000" stroke-opacity="0.35" stroke-width="0.8"/>
<text x="289.40" y="383.01" font-size="8.87" text-anchor="end" textLength="4.99" lengthAdjust="spacingAndGlyphs" fill="#000">1</text>
<line x1="290.00" y1="395.40" x2="291.50" y2="395.40" stroke="#000" stroke-opacity="0.35" stroke-width="0.8"/>
<text x="289.40" y="399.01" font-size="8.87" text-anchor="end" textLength="4.99" lengthAdjust="spacingAndGlyphs" fill="#000">0</text>
<line x1="290.00" y1="411.40" x2="291.50" y2="411.40" stroke="#000" stroke-opacity="0.35" stroke-width="0.8"/>
<text x="289.40" y="415.01" font-size="8.87" text-anchor="end" textLength="11.57" lengthAdjust="spacingAndGlyphs" fill="#000">−1</text>
<line x1="290.00" y1="427.40" x2="291.50" y2="427.40" stroke="#000" stroke-opacity="0.35" stroke-width="0.8"/>
<text x="289.40" y="431.01" font-size="8.87" text-anchor="end" textLength="11.57" lengthAdjust="spacingAndGlyphs" fill="#000">−2</text>
<line x1="296.40" y1="431.50" x2="296.40" y2="433.00" stroke="#000" stroke-opacity="0.35" stroke-width="0.8"/>
<g transform="translate(296.40,440.29) rotate(-25.0)"><text x="0.00" y="2.12" font-size="8.87" text-anchor="middle" textLength="9.51" lengthAdjust="spacingAndGlyphs" fill="#000">F1</text></g>
<line x1="307.62" y1="431.50" x2="307.62" y2="433.00" stroke="#000" stroke-opacity="0.35" stroke-width="0.8"/>
<g transform="translate(307.62,440.29) rotate(-25.0)"><text x="0.00" y="2.12" font-size="8.87" text-anchor="middle" textLength="9.51" lengthAdjust="spacingAndGlyphs" fill="#000">F2</text></g>
<line x1="318.84" y1="431.50" x2="318.84" y2="433.00" stroke="#000" stroke-opacity="0.35" stroke-width="0.8"/>
<g transform="translate(318.84,440.29) rotate(-25.0)"><text x="0.00" y="2.12" font-size="8.87" text-anchor="middle" textLength="9.51" lengthAdjust="spacingAndGlyphs" fill="#000">F3</text></g>
<line x1="330.07" y1="431.50" x2="330.07" y2="433.00" stroke="#000" stroke-opacity="0.35" stroke-width="0.8"/>
<g transform="translate(330.07,440.29) rotate(-25.0)"><text x="0.00" y="2.12" font-size="8.87" text-anchor="middle" textLength="9.51" lengthAdjust="spacingAndGlyphs" fill="#000">F4</text></g>
<line x1="341.29" y1="431.50" x2="341.29" y2="433.00" stroke="#000" stroke-opacity="0.35" stroke-width="0.8"/>
<g transform="translate(341.29,440.29) rotate(-25.0)"><text x="0.00" y="2.12" font-size="8.87" text-anchor="middle" textLength="9.51" lengthAdjust="spacingAndGlyphs" fill="#000">F5</text></g>
<line x1="352.51" y1="431.50" x2="352.51" y2="433.00" stroke="#000" stroke-opacity="0.35" stroke-width="0.8"/>
<g transform="translate(352.51,440.29) rotate(-25.0)"><text x="0.00" y="2.12" font-size="8.87" text-anchor="middle" textLength="9.51" lengthAdjust="spacingAndGlyphs" fill="#000">F6</text></g>
<line x1="363.73" y1="431.50" x2="363.73" y2="433.00" stroke="#000" stroke-opacity="0.35" stroke-width="0.8"/>
<g transform="translate(363.73,440.29) rotate(-25.0)"><text x="0.00" y="2.12" font-size="8.87" text-anchor="middle" textLength="9.51" lengthAdjust="spacingAndGlyphs" fill="#000">F7</text></g>
<line x1="374.96" y1="431.50" x2="374.96" y2="433.00" stroke="#000" stroke-opacity="0.35" stroke-width="0.8"/>
<g transform="translate(374.96,440.29) rotate(-25.0)"><text x="0.00" y="2.12" font-size="8.87" text-anchor="middle" textLength="9.51" lengthAdjust="spacingAndGlyphs" fill="#000">F8</text></g>
<line x1="386.18" y1="431.50" x2="386.18" y2="433.00" stroke="#000" stroke-opacity="0.35" stroke-width="0.8"/>
<g transform="translate(386.18,440.29) rotate(-25.0)"><text x="0.00" y="2.12" font-size="8.87" text-anchor="middle" textLength="9.51" lengthAdjust="spacingAndGlyphs" fill="#000">F9</text></g>
<line x1="397.40" y1="431.50" x2="397.40" y2="433.00" stroke="#000" stroke-opacity="0.35" stroke-width="0.8"/>
<g transform="translate(397.40,441.34) rotate(-25.0)"><text x="0.00" y="2.12" font-size="8.87" text-anchor="middle" textLength="14.50" lengthAdjust="spacingAndGlyphs" fill="#000">F10</text></g>
<text x="346.60" y="346.20" font-size="8.87" text-anchor="middle" textLength="110.95" lengthAdjust="spacingAndGlyphs" fill="#000">Spearman&#39;s correlation 0.94</text>
<rect x="295.00" y="352.10" width="64.91" height="25.27" rx="1.96" fill="#fff" fill-opacity="0.8" stroke="#d0d0d0" stroke-width="0.8"/>
<rect x="297.83" y="355.63" width="15.85" height="5.49" fill="#1f77b4"/>
<text x="319.49" y="361.44" font-size="8.87" text-anchor="start" textLength="37.23" lengthAdjust="spacingAndGlyphs" fill="#000">predicted</text>
<rect x="297.83" y="367.01" width="15.85" height="5.49" fill="#ff7f0e"/>
<text x="319.49" y="372.82" font-size="8.87" text-anchor="start" textLength="16.11" lengthAdjust="spacingAndGlyphs" fill="#000">true</text>
<clipPath id="c33"><rect x="436.40" y="352.80" width="105.80" height="79.20"/></clipPath>
<g clip-path="url(#c33)">
<rect x="438.85" y="387.70" width="2.55" height="14.70" fill="#1f77b4"/>
<rect x="441.40" y="387.70" width="2.55" height="19.60" fill="#ff7f0e"/>
<rect x="449.48" y="387.70" width="2.55" height="37.24" fill="#1f77b4"/>
<rect x="452.03" y="387.70" width="2.55" height="39.20" fill="#ff7f0e"/>
<rect x="460.11" y="363.20" width="2.55" height="24.50" fill="#1f77b4"/>
<rect x="462.67" y="368.10" width="2.55" height="19.60" fill="#ff7f0e"/>
<rect x="470.75" y="357.32" width="2.55" height="30.38" fill="#1f77b4"/>
<rect x="473.30" y="368.10" width="2.55" height="19.60" fill="#ff7f0e"/>
<rect x="481.38" y="361.24" width="2.55" height="26.46" fill="#1f77b4"/>
<rect x="483.93" y="368.10" width="2.55" height="19.60" fill="#ff7f0e"/>
<rect x="492.01" y="387.70" width="2.55" height="14.70" fill="#1f77b4"/>
<rect x="494.57" y="387.70" width="2.55" height="19.60" fill="#ff7f0e"/>
<rect x="502.65" y="360.26" width="2.55" height="27.44" fill="#1f77b4"/>
<rect x="505.20" y="368.10" width="2.55" height="19.60" fill="#ff7f0e"/>
<rect x="513.28" y="357.32" width="2.55" height="30.38" fill="#1f77b4"/>
<rect x="515.83" y="368.10" width="2.55" height="19.60" fill="#ff7f0e"/>
<rect x="523.91" y="387.70" width="2.55" height="40.18" fill="#1f77b4"/>
<rect x="526.47" y="387.70" width="2.55" height="39.20" fill="#ff7f0e"/>
<rect x="534.55" y="364.18" width="2.55" height="23.52" fill="#1f77b4"/>
<rect x="537.10" y="368.10" width="2.55" height="19.60" fill="#ff7f0e"/>
<line x1="436.40" y1="387.70" x2="542.20" y2="387.70" stroke="#000" stroke-opacity="0.6" stroke-width="0.80" stroke-dasharray="1.6,0.9"/>
<polyline points="441.40,402.40 452.03,424.94 462.67,363.20 473.30,357.32 483.93,361.24 494.57,402.40 505.20,360.26 515.83,357.32 526.47,427.88 537.10,364.18" fill="none" stroke="#0000ff" stroke-opacity="0.95" stroke-width="0.65" stroke-linejoin="round"/>
<polyline points="441.40,407.30 452.03,426.90 462.67,368.10 473.30,368.10 483.93,368.10 494.57,407.30 505.20,368.10 515.83,368.10 526.47,426.90 537.10,368.10" fill="none" stroke="#ff0000" stroke-opacity="0.95" stroke-width="0.65" stroke-linejoin="round"/>
</g>
<rect x="436.50" y="352.50" width="106.00" height="80.00" fill="none" stroke="#000" stroke-opacity="0.26" stroke-width="1.25"/>
<line x1="435.00" y1="358.30" x2="436.50" y2="358.30" stroke="#000" stroke-opacity="0.35" stroke-width="0.8"/>
<text x="434.50" y="361.73" font-size="8.43" text-anchor="end" textLength="11.87" lengthAdjust="spacingAndGlyphs" fill="#000">1.5</text>
<line x1="435.00" y1="368.10" x2="436.50" y2="368.10" stroke="#000" stroke-opacity="0.35" stroke-width="0.8"/>
<text x="434.50" y="371.53" font-size="8.43" text-anchor="end" textLength="11.87" lengthAdjust="spacingAndGlyphs" fill="#000">1.0</text>
<line x1="435.00" y1="377.90" x2="436.50" y2="377.90" stroke="#000" stroke-opacity="0.35" stroke-width="0.8"/>
<text x="434.50" y="381.33" font-size="8.43" text-anchor="end" textLength="11.87" lengthAdjust="spacingAndGlyphs" fill="#000">0.5</text>
<line x1="435.00" y1="387.70" x2="436.50" y2="387.70" stroke="#000" stroke-opacity="0.35" stroke-width="0.8"/>
<text x="434.50" y="391.13" font-size="8.43" text-anchor="end" textLength="11.87" lengthAdjust="spacingAndGlyphs" fill="#000">0.0</text>
<line x1="435.00" y1="397.50" x2="436.50" y2="397.50" stroke="#000" stroke-opacity="0.35" stroke-width="0.8"/>
<text x="434.50" y="400.93" font-size="8.43" text-anchor="end" textLength="18.12" lengthAdjust="spacingAndGlyphs" fill="#000">−0.5</text>
<line x1="435.00" y1="407.30" x2="436.50" y2="407.30" stroke="#000" stroke-opacity="0.35" stroke-width="0.8"/>
<text x="434.50" y="410.73" font-size="8.43" text-anchor="end" textLength="18.12" lengthAdjust="spacingAndGlyphs" fill="#000">−1.0</text>
<line x1="435.00" y1="417.10" x2="436.50" y2="417.10" stroke="#000" stroke-opacity="0.35" stroke-width="0.8"/>
<text x="434.50" y="420.53" font-size="8.43" text-anchor="end" textLength="18.12" lengthAdjust="spacingAndGlyphs" fill="#000">−1.5</text>
<line x1="435.00" y1="426.90" x2="436.50" y2="426.90" stroke="#000" stroke-opacity="0.35" stroke-width="0.8"/>
<text x="434.50" y="430.33" font-size="8.43" text-anchor="end" textLength="18.12" lengthAdjust="spacingAndGlyphs" fill="#000">−2.0</text>
<line x1="441.40" y1="432.50" x2="441.40" y2="434.00" stroke="#000" stroke-opacity="0.35" stroke-width="0.8"/>
<g transform="translate(441.40,440.62) rotate(-25.0)"><text x="0.00" y="2.02" font-size="8.43" text-anchor="middle" textLength="9.04" lengthAdjust="spacingAndGlyphs" fill="#000">F1</text></g>
<line x1="452.03" y1="432.50" x2="452.03" y2="434.00" stroke="#000" stroke-opacity="0.35" stroke-width="0.8"/>
<g transform="translate(452.03,440.62) rotate(-25.0)"><text x="0.00" y="2.02" font-size="8.43" text-anchor="middle" textLength="9.04" lengthAdjust="spacingAndGlyphs" fill="#000">F2</text></g>
<line x1="462.67" y1="432.50" x2="462.67" y2="434.00" stroke="#000" stroke-opacity="0.35" stroke-width="0.8"/>
<g transform="translate(462.67,440.62) rotate(-25.0)"><text x="0.00" y="2.02" font-size="8.43" text-anchor="middle" textLength="9.04" lengthAdjust="spacingAndGlyphs" fill="#000">F3</text></g>
<line x1="473.30" y1="432.50" x2="473.30" y2="434.00" stroke="#000" stroke-opacity="0.35" stroke-width="0.8"/>
<g transform="translate(473.30,440.62) rotate(-25.0)"><text x="0.00" y="2.02" font-size="8.43" text-anchor="middle" textLength="9.04" lengthAdjust="spacingAndGlyphs" fill="#000">F4</text></g>
<line x1="483.93" y1="432.50" x2="483.93" y2="434.00" stroke="#000" stroke-opacity="0.35" stroke-width="0.8"/>
<g transform="translate(483.93,440.62) rotate(-25.0)"><text x="0.00" y="2.02" font-size="8.43" text-anchor="middle" textLength="9.04" lengthAdjust="spacingAndGlyphs" fill="#000">F5</text></g>
<line x1="494.57" y1="432.50" x2="494.57" y2="434.00" stroke="#000" stroke-opacity="0.35" stroke-width="0.8"/>
<g transform="translate(494.57,440.62) rotate(-25.0)"><text x="0.00" y="2.02" font-size="8.43" text-anchor="middle" textLength="9.04" lengthAdjust="spacingAndGlyphs" fill="#000">F6</text></g>
<line x1="505.20" y1="432.50" x2="505.20" y2="434.00" stroke="#000" stroke-opacity="0.35" stroke-width="0.8"/>
<g transform="translate(505.20,440.62) rotate(-25.0)"><text x="0.00" y="2.02" font-size="8.43" text-anchor="middle" textLength="9.04" lengthAdjust="spacingAndGlyphs" fill="#000">F7</text></g>
<line x1="515.83" y1="432.50" x2="515.83" y2="434.00" stroke="#000" stroke-opacity="0.35" stroke-width="0.8"/>
<g transform="translate(515.83,440.62) rotate(-25.0)"><text x="0.00" y="2.02" font-size="8.43" text-anchor="middle" textLength="9.04" lengthAdjust="spacingAndGlyphs" fill="#000">F8</text></g>
<line x1="526.47" y1="432.50" x2="526.47" y2="434.00" stroke="#000" stroke-opacity="0.35" stroke-width="0.8"/>
<g transform="translate(526.47,440.62) rotate(-25.0)"><text x="0.00" y="2.02" font-size="8.43" text-anchor="middle" textLength="9.04" lengthAdjust="spacingAndGlyphs" fill="#000">F9</text></g>
<line x1="537.10" y1="432.50" x2="537.10" y2="434.00" stroke="#000" stroke-opacity="0.35" stroke-width="0.8"/>
<g transform="translate(537.10,441.63) rotate(-25.0)"><text x="0.00" y="2.02" font-size="8.43" text-anchor="middle" textLength="13.79" lengthAdjust="spacingAndGlyphs" fill="#000">F10</text></g>
<text x="489.10" y="350.80" font-size="8.43" text-anchor="middle" textLength="105.50" lengthAdjust="spacingAndGlyphs" fill="#000">Spearman&#39;s correlation 0.88</text>
<rect x="458.80" y="404.30" width="61.72" height="24.03" rx="1.87" fill="#fff" fill-opacity="0.8" stroke="#d0d0d0" stroke-width="0.8"/>
<rect x="461.49" y="407.66" width="15.08" height="5.22" fill="#1f77b4"/>
<text x="482.09" y="413.18" font-size="8.43" text-anchor="start" textLength="35.40" lengthAdjust="spacingAndGlyphs" fill="#000">predicted</text>
<rect x="461.49" y="418.48" width="15.08" height="5.22" fill="#ff7f0e"/>
<text x="482.09" y="424.00" font-size="8.43" text-anchor="start" textLength="15.32" lengthAdjust="spacingAndGlyphs" fill="#000">true</text>
<clipPath id="c34"><rect x="569.40" y="348.20" width="111.60" height="83.10"/></clipPath>
<g clip-path="url(#c34)">
<rect x="571.91" y="388.25" width="2.69" height="9.16" fill="#1f77b4"/>
<rect x="574.60" y="388.25" width="2.69" height="0.00" fill="#ff7f0e"/>
<rect x="583.11" y="369.93" width="2.69" height="18.32" fill="#1f77b4"/>
<rect x="585.80" y="369.93" width="2.69" height="18.32" fill="#ff7f0e"/>
<rect x="594.31" y="373.59" width="2.69" height="14.66" fill="#1f77b4"/>
<rect x="597.00" y="369.93" width="2.69" height="18.32" fill="#ff7f0e"/>
<rect x="605.51" y="355.27" width="2.69" height="32.98" fill="#1f77b4"/>
<rect x="608.20" y="351.60" width="2.69" height="36.65" fill="#ff7f0e"/>
<rect x="616.71" y="369.93" width="2.69" height="18.32" fill="#1f77b4"/>
<rect x="619.40" y="369.93" width="2.69" height="18.32" fill="#ff7f0e"/>
<rect x="627.91" y="388.25" width="2.69" height="9.16" fill="#1f77b4"/>
<rect x="630.60" y="388.25" width="2.69" height="0.00" fill="#ff7f0e"/>
<rect x="639.11" y="388.25" width="2.69" height="38.48" fill="#1f77b4"/>
<rect x="641.80" y="388.25" width="2.69" height="18.32" fill="#ff7f0e"/>
<rect x="650.31" y="376.34" width="2.69" height="11.91" fill="#1f77b4"/>
<rect x="653.00" y="369.93" width="2.69" height="18.32" fill="#ff7f0e"/>
<rect x="661.51" y="388.25" width="2.69" height="32.98" fill="#1f77b4"/>
<rect x="664.20" y="388.25" width="2.69" height="18.32" fill="#ff7f0e"/>
<rect x="672.71" y="369.01" width="2.69" height="19.24" fill="#1f77b4"/>
<rect x="675.40" y="369.93" width="2.69" height="18.32" fill="#ff7f0e"/>
<line x1="569.40" y1="388.25" x2="681.00" y2="388.25" stroke="#000" stroke-opacity="0.6" stroke-width="0.80" stroke-dasharray="1.6,0.9"/>
<polyline points="574.60,397.41 585.80,369.93 597.00,373.59 608.20,355.27 619.40,369.93 630.60,397.41 641.80,426.73 653.00,376.34 664.20,421.23 675.40,369.01" fill="none" stroke="#0000ff" stroke-opacity="0.95" stroke-width="0.65" stroke-linejoin="round"/>
<polyline points="574.60,388.25 585.80,369.93 597.00,369.93 608.20,351.60 619.40,369.93 630.60,388.25 641.80,406.57 653.00,369.93 664.20,406.57 675.40,369.93" fill="none" stroke="#ff0000" stroke-opacity="0.95" stroke-width="0.65" stroke-linejoin="round"/>
</g>
<rect x="569.50" y="348.50" width="112.00" height="83.00" fill="none" stroke="#000" stroke-opacity="0.26" stroke-width="1.25"/>
<line x1="568.00" y1="351.60" x2="569.50" y2="351.60" stroke="#000" stroke-opacity="0.35" stroke-width="0.8"/>
<text x="567.50" y="355.22" font-size="8.90" text-anchor="end" textLength="5.01" lengthAdjust="spacingAndGlyphs" fill="#000">2</text>
<line x1="568.00" y1="369.93" x2="569.50" y2="369.93" stroke="#000" stroke-opacity="0.35" stroke-width="0.8"/>
<text x="567.50" y="373.55" font-size="8.90" text-anchor="end" textLength="5.01" lengthAdjust="spacingAndGlyphs" fill="#000">1</text>
<line x1="568.00" y1="388.25" x2="569.50" y2="388.25" stroke="#000" stroke-opacity="0.35" stroke-width="0.8"/>
<text x="567.50" y="391.87" font-size="8.90" text-anchor="end" textLength="5.01" lengthAdjust="spacingAndGlyphs" fill="#000">0</text>
<line x1="568.00" y1="406.57" x2="569.50" y2="406.57" stroke="#000" stroke-opacity="0.35" stroke-width="0.8"/>
<text x="567.50" y="410.20" font-size="8.90" text-anchor="end" textLength="11.61" lengthAdjust="spacingAndGlyphs" fill="#000">−1</text>
<line x1="568.00" y1="424.90" x2="569.50" y2="424.90" stroke="#000" stroke-opacity="0.35" stroke-width="0.8"/>
<text x="567.50" y="428.52" font-size="8.90" text-anchor="end" textLength="11.61" lengthAdjust="spacingAndGlyphs" fill="#000">−2</text>
<line x1="574.60" y1="431.50" x2="574.60" y2="433.00" stroke="#000" stroke-opacity="0.35" stroke-width="0.8"/>
<g transform="translate(574.60,440.21) rotate(-25.0)"><text x="0.00" y="2.13" font-size="8.90" text-anchor="middle" textLength="9.54" lengthAdjust="spacingAndGlyphs" fill="#000">F1</text></g>
<line x1="585.80" y1="431.50" x2="585.80" y2="433.00" stroke="#000" stroke-opacity="0.35" stroke-width="0.8"/>
<g transform="translate(585.80,440.21) rotate(-25.0)"><text x="0.00" y="2.13" font-size="8.90" text-anchor="middle" textLength="9.54" lengthAdjust="spacingAndGlyphs" fill="#000">F2</text></g>
<line x1="597.00" y1="431.50" x2="597.00" y2="433.00" stroke="#000" stroke-opacity="0.35" stroke-width="0.8"/>
<g transform="translate(597.00,440.21) rotate(-25.0)"><text x="0.00" y="2.13" font-size="8.90" text-anchor="middle" textLength="9.54" lengthAdjust="spacingAndGlyphs" fill="#000">F3</text></g>
<line x1="608.20" y1="431.50" x2="608.20" y2="433.00" stroke="#000" stroke-opacity="0.35" stroke-width="0.8"/>
<g transform="translate(608.20,440.21) rotate(-25.0)"><text x="0.00" y="2.13" font-size="8.90" text-anchor="middle" textLength="9.54" lengthAdjust="spacingAndGlyphs" fill="#000">F4</text></g>
<line x1="619.40" y1="431.50" x2="619.40" y2="433.00" stroke="#000" stroke-opacity="0.35" stroke-width="0.8"/>
<g transform="translate(619.40,440.21) rotate(-25.0)"><text x="0.00" y="2.13" font-size="8.90" text-anchor="middle" textLength="9.54" lengthAdjust="spacingAndGlyphs" fill="#000">F5</text></g>
<line x1="630.60" y1="431.50" x2="630.60" y2="433.00" stroke="#000" stroke-opacity="0.35" stroke-width="0.8"/>
<g transform="translate(630.60,440.21) rotate(-25.0)"><text x="0.00" y="2.13" font-size="8.90" text-anchor="middle" textLength="9.54" lengthAdjust="spacingAndGlyphs" fill="#000">F6</text></g>
<line x1="641.80" y1="431.50" x2="641.80" y2="433.00" stroke="#000" stroke-opacity="0.35" stroke-width="0.8"/>
<g transform="translate(641.80,440.21) rotate(-25.0)"><text x="0.00" y="2.13" font-size="8.90" text-anchor="middle" textLength="9.54" lengthAdjust="spacingAndGlyphs" fill="#000">F7</text></g>
<line x1="653.00" y1="431.50" x2="653.00" y2="433.00" stroke="#000" stroke-opacity="0.35" stroke-width="0.8"/>
<g transform="translate(653.00,440.21) rotate(-25.0)"><text x="0.00" y="2.13" font-size="8.90" text-anchor="middle" textLength="9.54" lengthAdjust="spacingAndGlyphs" fill="#000">F8</text></g>
<line x1="664.20" y1="431.50" x2="664.20" y2="433.00" stroke="#000" stroke-opacity="0.35" stroke-width="0.8"/>
<g transform="translate(664.20,440.21) rotate(-25.0)"><text x="0.00" y="2.13" font-size="8.90" text-anchor="middle" textLength="9.54" lengthAdjust="spacingAndGlyphs" fill="#000">F9</text></g>
<line x1="675.40" y1="431.50" x2="675.40" y2="433.00" stroke="#000" stroke-opacity="0.35" stroke-width="0.8"/>
<g transform="translate(675.40,441.27) rotate(-25.0)"><text x="0.00" y="2.13" font-size="8.90" text-anchor="middle" textLength="14.55" lengthAdjust="spacingAndGlyphs" fill="#000">F10</text></g>
<text x="624.80" y="346.20" font-size="8.90" text-anchor="middle" textLength="111.35" lengthAdjust="spacingAndGlyphs" fill="#000">Spearman&#39;s correlation 0.93</text>
<rect x="573.20" y="402.30" width="65.15" height="25.36" rx="1.97" fill="#fff" fill-opacity="0.8" stroke="#d0d0d0" stroke-width="0.8"/>
<rect x="576.04" y="405.84" width="15.91" height="5.51" fill="#1f77b4"/>
<text x="597.78" y="411.67" font-size="8.90" text-anchor="start" textLength="37.37" lengthAdjust="spacingAndGlyphs" fill="#000">predicted</text>
<rect x="576.04" y="417.27" width="15.91" height="5.51" fill="#ff7f0e"/>
<text x="597.78" y="423.10" font-size="8.90" text-anchor="start" textLength="16.17" lengthAdjust="spacingAndGlyphs" fill="#000">true</text>
</svg>
</body></html>
